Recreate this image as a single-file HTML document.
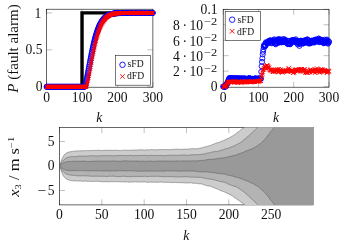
<!DOCTYPE html><html><head><meta charset="utf-8"><style>html,body{margin:0;padding:0;background:#fff;}svg{display:block}text{font-family:"Liberation Serif",serif;fill:#111}</style></head><body>
<svg style="will-change:transform" width="344" height="245" viewBox="0 0 344 245">
<rect width="344" height="245" fill="#fff"/>
<path d="M46.60 87.2 v-5.5 M46.60 9.2 v5.5" stroke="#808080" stroke-width="0.5" fill="none"/>
<path d="M82.03 87.2 v-5.5 M82.03 9.2 v5.5" stroke="#808080" stroke-width="0.5" fill="none"/>
<path d="M117.47 87.2 v-5.5 M117.47 9.2 v5.5" stroke="#808080" stroke-width="0.5" fill="none"/>
<path d="M152.90 87.2 v-5.5 M152.90 9.2 v5.5" stroke="#808080" stroke-width="0.5" fill="none"/>
<path d="M46.6 86.80 h5.5 M152.9 86.80 h-5.5" stroke="#808080" stroke-width="0.5" fill="none"/>
<path d="M46.6 49.85 h5.5 M152.9 49.85 h-5.5" stroke="#808080" stroke-width="0.5" fill="none"/>
<path d="M46.6 12.90 h5.5 M152.9 12.90 h-5.5" stroke="#808080" stroke-width="0.5" fill="none"/>
<rect x="46.6" y="9.2" width="106.30000000000001" height="78.0" fill="none" stroke="#000" stroke-width="0.6"/>
<path d="M46.60 86.80 H82.03 V12.90 H152.90" fill="none" stroke="#000" stroke-width="3.4" stroke-linejoin="miter"/>
<g fill="none" stroke="#0000ff" stroke-width="1"><circle cx="46.60" cy="86.80" r="2.5"/><circle cx="46.95" cy="86.80" r="2.5"/><circle cx="47.31" cy="86.80" r="2.5"/><circle cx="47.66" cy="86.80" r="2.5"/><circle cx="48.02" cy="86.80" r="2.5"/><circle cx="48.37" cy="86.80" r="2.5"/><circle cx="48.73" cy="86.80" r="2.5"/><circle cx="49.08" cy="86.80" r="2.5"/><circle cx="49.43" cy="86.80" r="2.5"/><circle cx="49.79" cy="86.80" r="2.5"/><circle cx="50.14" cy="86.80" r="2.5"/><circle cx="50.50" cy="86.80" r="2.5"/><circle cx="50.85" cy="86.80" r="2.5"/><circle cx="51.21" cy="86.80" r="2.5"/><circle cx="51.56" cy="86.80" r="2.5"/><circle cx="51.91" cy="86.80" r="2.5"/><circle cx="52.27" cy="86.80" r="2.5"/><circle cx="52.62" cy="86.80" r="2.5"/><circle cx="52.98" cy="86.80" r="2.5"/><circle cx="53.33" cy="86.80" r="2.5"/><circle cx="53.69" cy="86.80" r="2.5"/><circle cx="54.04" cy="86.80" r="2.5"/><circle cx="54.40" cy="86.80" r="2.5"/><circle cx="54.75" cy="86.80" r="2.5"/><circle cx="55.10" cy="86.80" r="2.5"/><circle cx="55.46" cy="86.80" r="2.5"/><circle cx="55.81" cy="86.80" r="2.5"/><circle cx="56.17" cy="86.80" r="2.5"/><circle cx="56.52" cy="86.80" r="2.5"/><circle cx="56.88" cy="86.80" r="2.5"/><circle cx="57.23" cy="86.80" r="2.5"/><circle cx="57.58" cy="86.80" r="2.5"/><circle cx="57.94" cy="86.80" r="2.5"/><circle cx="58.29" cy="86.80" r="2.5"/><circle cx="58.65" cy="86.80" r="2.5"/><circle cx="59.00" cy="86.80" r="2.5"/><circle cx="59.36" cy="86.80" r="2.5"/><circle cx="59.71" cy="86.80" r="2.5"/><circle cx="60.06" cy="86.80" r="2.5"/><circle cx="60.42" cy="86.80" r="2.5"/><circle cx="60.77" cy="86.80" r="2.5"/><circle cx="61.13" cy="86.80" r="2.5"/><circle cx="61.48" cy="86.80" r="2.5"/><circle cx="61.84" cy="86.80" r="2.5"/><circle cx="62.19" cy="86.80" r="2.5"/><circle cx="62.55" cy="86.80" r="2.5"/><circle cx="62.90" cy="86.80" r="2.5"/><circle cx="63.25" cy="86.80" r="2.5"/><circle cx="63.61" cy="86.80" r="2.5"/><circle cx="63.96" cy="86.80" r="2.5"/><circle cx="64.32" cy="86.80" r="2.5"/><circle cx="64.67" cy="86.80" r="2.5"/><circle cx="65.03" cy="86.80" r="2.5"/><circle cx="65.38" cy="86.80" r="2.5"/><circle cx="65.73" cy="86.80" r="2.5"/><circle cx="66.09" cy="86.80" r="2.5"/><circle cx="66.44" cy="86.80" r="2.5"/><circle cx="66.80" cy="86.80" r="2.5"/><circle cx="67.15" cy="86.80" r="2.5"/><circle cx="67.51" cy="86.80" r="2.5"/><circle cx="67.86" cy="86.80" r="2.5"/><circle cx="68.21" cy="86.80" r="2.5"/><circle cx="68.57" cy="86.80" r="2.5"/><circle cx="68.92" cy="86.80" r="2.5"/><circle cx="69.28" cy="86.80" r="2.5"/><circle cx="69.63" cy="86.80" r="2.5"/><circle cx="69.99" cy="86.80" r="2.5"/><circle cx="70.34" cy="86.80" r="2.5"/><circle cx="70.69" cy="86.80" r="2.5"/><circle cx="71.05" cy="86.80" r="2.5"/><circle cx="71.40" cy="86.80" r="2.5"/><circle cx="71.76" cy="86.80" r="2.5"/><circle cx="72.11" cy="86.80" r="2.5"/><circle cx="72.47" cy="86.80" r="2.5"/><circle cx="72.82" cy="86.80" r="2.5"/><circle cx="73.18" cy="86.80" r="2.5"/><circle cx="73.53" cy="86.80" r="2.5"/><circle cx="73.88" cy="86.80" r="2.5"/><circle cx="74.24" cy="86.80" r="2.5"/><circle cx="74.59" cy="86.80" r="2.5"/><circle cx="74.95" cy="86.80" r="2.5"/><circle cx="75.30" cy="86.80" r="2.5"/><circle cx="75.66" cy="86.80" r="2.5"/><circle cx="76.01" cy="86.80" r="2.5"/><circle cx="76.36" cy="86.80" r="2.5"/><circle cx="76.72" cy="86.80" r="2.5"/><circle cx="77.07" cy="86.80" r="2.5"/><circle cx="77.43" cy="86.80" r="2.5"/><circle cx="77.78" cy="86.80" r="2.5"/><circle cx="78.14" cy="86.80" r="2.5"/><circle cx="78.49" cy="86.80" r="2.5"/><circle cx="78.84" cy="86.80" r="2.5"/><circle cx="79.20" cy="86.80" r="2.5"/><circle cx="79.55" cy="86.80" r="2.5"/><circle cx="79.91" cy="86.80" r="2.5"/><circle cx="80.26" cy="86.80" r="2.5"/><circle cx="80.62" cy="86.80" r="2.5"/><circle cx="80.97" cy="86.80" r="2.5"/><circle cx="81.32" cy="86.80" r="2.5"/><circle cx="81.68" cy="86.80" r="2.5"/><circle cx="82.03" cy="86.80" r="2.5"/><circle cx="82.39" cy="86.80" r="2.5"/><circle cx="82.74" cy="86.80" r="2.5"/><circle cx="83.10" cy="86.80" r="2.5"/><circle cx="83.45" cy="86.80" r="2.5"/><circle cx="83.81" cy="86.80" r="2.5"/><circle cx="84.16" cy="86.80" r="2.5"/><circle cx="84.51" cy="86.80" r="2.5"/><circle cx="84.87" cy="86.23" r="2.5"/><circle cx="85.22" cy="85.25" r="2.5"/><circle cx="85.58" cy="84.03" r="2.5"/><circle cx="85.93" cy="82.64" r="2.5"/><circle cx="86.29" cy="81.11" r="2.5"/><circle cx="86.64" cy="79.47" r="2.5"/><circle cx="86.99" cy="77.75" r="2.5"/><circle cx="87.35" cy="75.97" r="2.5"/><circle cx="87.70" cy="74.14" r="2.5"/><circle cx="88.06" cy="72.26" r="2.5"/><circle cx="88.41" cy="70.37" r="2.5"/><circle cx="88.77" cy="68.46" r="2.5"/><circle cx="89.12" cy="66.54" r="2.5"/><circle cx="89.47" cy="64.63" r="2.5"/><circle cx="89.83" cy="62.72" r="2.5"/><circle cx="90.18" cy="60.83" r="2.5"/><circle cx="90.54" cy="58.96" r="2.5"/><circle cx="90.89" cy="57.12" r="2.5"/><circle cx="91.25" cy="55.30" r="2.5"/><circle cx="91.60" cy="53.52" r="2.5"/><circle cx="91.95" cy="51.78" r="2.5"/><circle cx="92.31" cy="50.08" r="2.5"/><circle cx="92.66" cy="48.41" r="2.5"/><circle cx="93.02" cy="46.80" r="2.5"/><circle cx="93.37" cy="45.22" r="2.5"/><circle cx="93.73" cy="43.70" r="2.5"/><circle cx="94.08" cy="42.22" r="2.5"/><circle cx="94.44" cy="40.78" r="2.5"/><circle cx="94.79" cy="39.40" r="2.5"/><circle cx="95.14" cy="38.07" r="2.5"/><circle cx="95.50" cy="36.78" r="2.5"/><circle cx="95.85" cy="35.54" r="2.5"/><circle cx="96.21" cy="34.35" r="2.5"/><circle cx="96.56" cy="33.21" r="2.5"/><circle cx="96.92" cy="32.12" r="2.5"/><circle cx="97.27" cy="31.07" r="2.5"/><circle cx="97.62" cy="30.06" r="2.5"/><circle cx="97.98" cy="29.10" r="2.5"/><circle cx="98.33" cy="28.18" r="2.5"/><circle cx="98.69" cy="27.31" r="2.5"/><circle cx="99.04" cy="26.48" r="2.5"/><circle cx="99.40" cy="25.68" r="2.5"/><circle cx="99.75" cy="24.93" r="2.5"/><circle cx="100.10" cy="24.21" r="2.5"/><circle cx="100.46" cy="23.53" r="2.5"/><circle cx="100.81" cy="22.88" r="2.5"/><circle cx="101.17" cy="22.27" r="2.5"/><circle cx="101.52" cy="21.69" r="2.5"/><circle cx="101.88" cy="21.14" r="2.5"/><circle cx="102.23" cy="20.62" r="2.5"/><circle cx="102.58" cy="20.13" r="2.5"/><circle cx="102.94" cy="19.66" r="2.5"/><circle cx="103.29" cy="19.22" r="2.5"/><circle cx="103.65" cy="18.81" r="2.5"/><circle cx="104.00" cy="18.42" r="2.5"/><circle cx="104.36" cy="18.05" r="2.5"/><circle cx="104.71" cy="17.71" r="2.5"/><circle cx="105.07" cy="17.39" r="2.5"/><circle cx="105.42" cy="17.08" r="2.5"/><circle cx="105.77" cy="16.79" r="2.5"/><circle cx="106.13" cy="16.53" r="2.5"/><circle cx="106.48" cy="16.27" r="2.5"/><circle cx="106.84" cy="16.04" r="2.5"/><circle cx="107.19" cy="15.82" r="2.5"/><circle cx="107.55" cy="15.61" r="2.5"/><circle cx="107.90" cy="15.42" r="2.5"/><circle cx="108.25" cy="15.24" r="2.5"/><circle cx="108.61" cy="15.07" r="2.5"/><circle cx="108.96" cy="14.91" r="2.5"/><circle cx="109.32" cy="14.76" r="2.5"/><circle cx="109.67" cy="14.63" r="2.5"/><circle cx="110.03" cy="14.50" r="2.5"/><circle cx="110.38" cy="14.38" r="2.5"/><circle cx="110.73" cy="14.27" r="2.5"/><circle cx="111.09" cy="14.17" r="2.5"/><circle cx="111.44" cy="14.07" r="2.5"/><circle cx="111.80" cy="13.98" r="2.5"/><circle cx="112.15" cy="13.90" r="2.5"/><circle cx="112.51" cy="13.82" r="2.5"/><circle cx="112.86" cy="13.75" r="2.5"/><circle cx="113.21" cy="13.68" r="2.5"/><circle cx="113.57" cy="13.62" r="2.5"/><circle cx="113.92" cy="13.56" r="2.5"/><circle cx="114.28" cy="13.51" r="2.5"/><circle cx="114.63" cy="13.46" r="2.5"/><circle cx="114.99" cy="13.42" r="2.5"/><circle cx="115.34" cy="13.38" r="2.5"/><circle cx="115.70" cy="13.34" r="2.5"/><circle cx="116.05" cy="13.30" r="2.5"/><circle cx="116.40" cy="13.27" r="2.5"/><circle cx="116.76" cy="13.24" r="2.5"/><circle cx="117.11" cy="13.21" r="2.5"/><circle cx="117.47" cy="13.19" r="2.5"/><circle cx="117.82" cy="13.16" r="2.5"/><circle cx="118.18" cy="13.14" r="2.5"/><circle cx="118.53" cy="13.12" r="2.5"/><circle cx="118.88" cy="13.10" r="2.5"/><circle cx="119.24" cy="13.08" r="2.5"/><circle cx="119.59" cy="13.07" r="2.5"/><circle cx="119.95" cy="13.05" r="2.5"/><circle cx="120.30" cy="13.04" r="2.5"/><circle cx="120.66" cy="13.03" r="2.5"/><circle cx="121.01" cy="13.02" r="2.5"/><circle cx="121.36" cy="13.01" r="2.5"/><circle cx="121.72" cy="13.00" r="2.5"/><circle cx="122.07" cy="12.99" r="2.5"/><circle cx="122.43" cy="12.98" r="2.5"/><circle cx="122.78" cy="12.97" r="2.5"/><circle cx="123.14" cy="12.97" r="2.5"/><circle cx="123.49" cy="12.96" r="2.5"/><circle cx="123.84" cy="12.96" r="2.5"/><circle cx="124.20" cy="12.95" r="2.5"/><circle cx="124.55" cy="12.95" r="2.5"/><circle cx="124.91" cy="12.94" r="2.5"/><circle cx="125.26" cy="12.94" r="2.5"/><circle cx="125.62" cy="12.94" r="2.5"/><circle cx="125.97" cy="12.93" r="2.5"/><circle cx="126.33" cy="12.93" r="2.5"/><circle cx="126.68" cy="12.93" r="2.5"/><circle cx="127.03" cy="12.92" r="2.5"/><circle cx="127.39" cy="12.92" r="2.5"/><circle cx="127.74" cy="12.92" r="2.5"/><circle cx="128.10" cy="12.92" r="2.5"/><circle cx="128.45" cy="12.92" r="2.5"/><circle cx="128.81" cy="12.91" r="2.5"/><circle cx="129.16" cy="12.91" r="2.5"/><circle cx="129.51" cy="12.91" r="2.5"/><circle cx="129.87" cy="12.91" r="2.5"/><circle cx="130.22" cy="12.91" r="2.5"/><circle cx="130.58" cy="12.91" r="2.5"/><circle cx="130.93" cy="12.91" r="2.5"/><circle cx="131.29" cy="12.91" r="2.5"/><circle cx="131.64" cy="12.91" r="2.5"/><circle cx="131.99" cy="12.91" r="2.5"/><circle cx="132.35" cy="12.91" r="2.5"/><circle cx="132.70" cy="12.90" r="2.5"/><circle cx="133.06" cy="12.90" r="2.5"/><circle cx="133.41" cy="12.90" r="2.5"/><circle cx="133.77" cy="12.90" r="2.5"/><circle cx="134.12" cy="12.90" r="2.5"/><circle cx="134.47" cy="12.90" r="2.5"/><circle cx="134.83" cy="12.90" r="2.5"/><circle cx="135.18" cy="12.90" r="2.5"/><circle cx="135.54" cy="12.90" r="2.5"/><circle cx="135.89" cy="12.90" r="2.5"/><circle cx="136.25" cy="12.90" r="2.5"/><circle cx="136.60" cy="12.90" r="2.5"/><circle cx="136.96" cy="12.90" r="2.5"/><circle cx="137.31" cy="12.90" r="2.5"/><circle cx="137.66" cy="12.90" r="2.5"/><circle cx="138.02" cy="12.90" r="2.5"/><circle cx="138.37" cy="12.90" r="2.5"/><circle cx="138.73" cy="12.90" r="2.5"/><circle cx="139.08" cy="12.90" r="2.5"/><circle cx="139.44" cy="12.90" r="2.5"/><circle cx="139.79" cy="12.90" r="2.5"/><circle cx="140.14" cy="12.90" r="2.5"/><circle cx="140.50" cy="12.90" r="2.5"/><circle cx="140.85" cy="12.90" r="2.5"/><circle cx="141.21" cy="12.90" r="2.5"/><circle cx="141.56" cy="12.90" r="2.5"/><circle cx="141.92" cy="12.90" r="2.5"/><circle cx="142.27" cy="12.90" r="2.5"/><circle cx="142.62" cy="12.90" r="2.5"/><circle cx="142.98" cy="12.90" r="2.5"/><circle cx="143.33" cy="12.90" r="2.5"/><circle cx="143.69" cy="12.90" r="2.5"/><circle cx="144.04" cy="12.90" r="2.5"/><circle cx="144.40" cy="12.90" r="2.5"/><circle cx="144.75" cy="12.90" r="2.5"/><circle cx="145.10" cy="12.90" r="2.5"/><circle cx="145.46" cy="12.90" r="2.5"/><circle cx="145.81" cy="12.90" r="2.5"/><circle cx="146.17" cy="12.90" r="2.5"/><circle cx="146.52" cy="12.90" r="2.5"/><circle cx="146.88" cy="12.90" r="2.5"/><circle cx="147.23" cy="12.90" r="2.5"/><circle cx="147.59" cy="12.90" r="2.5"/><circle cx="147.94" cy="12.90" r="2.5"/><circle cx="148.29" cy="12.90" r="2.5"/><circle cx="148.65" cy="12.90" r="2.5"/><circle cx="149.00" cy="12.90" r="2.5"/><circle cx="149.36" cy="12.90" r="2.5"/><circle cx="149.71" cy="12.90" r="2.5"/><circle cx="150.07" cy="12.90" r="2.5"/><circle cx="150.42" cy="12.90" r="2.5"/><circle cx="150.77" cy="12.90" r="2.5"/><circle cx="151.13" cy="12.90" r="2.5"/><circle cx="151.48" cy="12.90" r="2.5"/><circle cx="151.84" cy="12.90" r="2.5"/><circle cx="152.19" cy="12.90" r="2.5"/><circle cx="152.55" cy="12.90" r="2.5"/><circle cx="152.90" cy="12.90" r="2.5"/></g>
<path fill="none" stroke="#ff0000" stroke-width="1" d="M44.70 84.90l3.8 3.8M44.70 88.70l3.8 -3.8M45.05 84.90l3.8 3.8M45.05 88.70l3.8 -3.8M45.41 84.90l3.8 3.8M45.41 88.70l3.8 -3.8M45.76 84.90l3.8 3.8M45.76 88.70l3.8 -3.8M46.12 84.90l3.8 3.8M46.12 88.70l3.8 -3.8M46.47 84.90l3.8 3.8M46.47 88.70l3.8 -3.8M46.83 84.90l3.8 3.8M46.83 88.70l3.8 -3.8M47.18 84.90l3.8 3.8M47.18 88.70l3.8 -3.8M47.53 84.90l3.8 3.8M47.53 88.70l3.8 -3.8M47.89 84.90l3.8 3.8M47.89 88.70l3.8 -3.8M48.24 84.90l3.8 3.8M48.24 88.70l3.8 -3.8M48.60 84.90l3.8 3.8M48.60 88.70l3.8 -3.8M48.95 84.90l3.8 3.8M48.95 88.70l3.8 -3.8M49.31 84.90l3.8 3.8M49.31 88.70l3.8 -3.8M49.66 84.90l3.8 3.8M49.66 88.70l3.8 -3.8M50.02 84.90l3.8 3.8M50.02 88.70l3.8 -3.8M50.37 84.90l3.8 3.8M50.37 88.70l3.8 -3.8M50.72 84.90l3.8 3.8M50.72 88.70l3.8 -3.8M51.08 84.90l3.8 3.8M51.08 88.70l3.8 -3.8M51.43 84.90l3.8 3.8M51.43 88.70l3.8 -3.8M51.79 84.90l3.8 3.8M51.79 88.70l3.8 -3.8M52.14 84.90l3.8 3.8M52.14 88.70l3.8 -3.8M52.50 84.90l3.8 3.8M52.50 88.70l3.8 -3.8M52.85 84.90l3.8 3.8M52.85 88.70l3.8 -3.8M53.20 84.90l3.8 3.8M53.20 88.70l3.8 -3.8M53.56 84.90l3.8 3.8M53.56 88.70l3.8 -3.8M53.91 84.90l3.8 3.8M53.91 88.70l3.8 -3.8M54.27 84.90l3.8 3.8M54.27 88.70l3.8 -3.8M54.62 84.90l3.8 3.8M54.62 88.70l3.8 -3.8M54.98 84.90l3.8 3.8M54.98 88.70l3.8 -3.8M55.33 84.90l3.8 3.8M55.33 88.70l3.8 -3.8M55.68 84.90l3.8 3.8M55.68 88.70l3.8 -3.8M56.04 84.90l3.8 3.8M56.04 88.70l3.8 -3.8M56.39 84.90l3.8 3.8M56.39 88.70l3.8 -3.8M56.75 84.90l3.8 3.8M56.75 88.70l3.8 -3.8M57.10 84.90l3.8 3.8M57.10 88.70l3.8 -3.8M57.46 84.90l3.8 3.8M57.46 88.70l3.8 -3.8M57.81 84.90l3.8 3.8M57.81 88.70l3.8 -3.8M58.16 84.90l3.8 3.8M58.16 88.70l3.8 -3.8M58.52 84.90l3.8 3.8M58.52 88.70l3.8 -3.8M58.87 84.90l3.8 3.8M58.87 88.70l3.8 -3.8M59.23 84.90l3.8 3.8M59.23 88.70l3.8 -3.8M59.58 84.90l3.8 3.8M59.58 88.70l3.8 -3.8M59.94 84.90l3.8 3.8M59.94 88.70l3.8 -3.8M60.29 84.90l3.8 3.8M60.29 88.70l3.8 -3.8M60.65 84.90l3.8 3.8M60.65 88.70l3.8 -3.8M61.00 84.90l3.8 3.8M61.00 88.70l3.8 -3.8M61.35 84.90l3.8 3.8M61.35 88.70l3.8 -3.8M61.71 84.90l3.8 3.8M61.71 88.70l3.8 -3.8M62.06 84.90l3.8 3.8M62.06 88.70l3.8 -3.8M62.42 84.90l3.8 3.8M62.42 88.70l3.8 -3.8M62.77 84.90l3.8 3.8M62.77 88.70l3.8 -3.8M63.13 84.90l3.8 3.8M63.13 88.70l3.8 -3.8M63.48 84.90l3.8 3.8M63.48 88.70l3.8 -3.8M63.83 84.90l3.8 3.8M63.83 88.70l3.8 -3.8M64.19 84.90l3.8 3.8M64.19 88.70l3.8 -3.8M64.54 84.90l3.8 3.8M64.54 88.70l3.8 -3.8M64.90 84.90l3.8 3.8M64.90 88.70l3.8 -3.8M65.25 84.90l3.8 3.8M65.25 88.70l3.8 -3.8M65.61 84.90l3.8 3.8M65.61 88.70l3.8 -3.8M65.96 84.90l3.8 3.8M65.96 88.70l3.8 -3.8M66.31 84.90l3.8 3.8M66.31 88.70l3.8 -3.8M66.67 84.90l3.8 3.8M66.67 88.70l3.8 -3.8M67.02 84.90l3.8 3.8M67.02 88.70l3.8 -3.8M67.38 84.90l3.8 3.8M67.38 88.70l3.8 -3.8M67.73 84.90l3.8 3.8M67.73 88.70l3.8 -3.8M68.09 84.90l3.8 3.8M68.09 88.70l3.8 -3.8M68.44 84.90l3.8 3.8M68.44 88.70l3.8 -3.8M68.79 84.90l3.8 3.8M68.79 88.70l3.8 -3.8M69.15 84.90l3.8 3.8M69.15 88.70l3.8 -3.8M69.50 84.90l3.8 3.8M69.50 88.70l3.8 -3.8M69.86 84.90l3.8 3.8M69.86 88.70l3.8 -3.8M70.21 84.90l3.8 3.8M70.21 88.70l3.8 -3.8M70.57 84.90l3.8 3.8M70.57 88.70l3.8 -3.8M70.92 84.90l3.8 3.8M70.92 88.70l3.8 -3.8M71.28 84.90l3.8 3.8M71.28 88.70l3.8 -3.8M71.63 84.90l3.8 3.8M71.63 88.70l3.8 -3.8M71.98 84.90l3.8 3.8M71.98 88.70l3.8 -3.8M72.34 84.90l3.8 3.8M72.34 88.70l3.8 -3.8M72.69 84.90l3.8 3.8M72.69 88.70l3.8 -3.8M73.05 84.90l3.8 3.8M73.05 88.70l3.8 -3.8M73.40 84.90l3.8 3.8M73.40 88.70l3.8 -3.8M73.76 84.90l3.8 3.8M73.76 88.70l3.8 -3.8M74.11 84.90l3.8 3.8M74.11 88.70l3.8 -3.8M74.46 84.90l3.8 3.8M74.46 88.70l3.8 -3.8M74.82 84.90l3.8 3.8M74.82 88.70l3.8 -3.8M75.17 84.90l3.8 3.8M75.17 88.70l3.8 -3.8M75.53 84.90l3.8 3.8M75.53 88.70l3.8 -3.8M75.88 84.90l3.8 3.8M75.88 88.70l3.8 -3.8M76.24 84.90l3.8 3.8M76.24 88.70l3.8 -3.8M76.59 84.90l3.8 3.8M76.59 88.70l3.8 -3.8M76.94 84.90l3.8 3.8M76.94 88.70l3.8 -3.8M77.30 84.90l3.8 3.8M77.30 88.70l3.8 -3.8M77.65 84.90l3.8 3.8M77.65 88.70l3.8 -3.8M78.01 84.90l3.8 3.8M78.01 88.70l3.8 -3.8M78.36 84.90l3.8 3.8M78.36 88.70l3.8 -3.8M78.72 84.90l3.8 3.8M78.72 88.70l3.8 -3.8M79.07 84.90l3.8 3.8M79.07 88.70l3.8 -3.8M79.42 84.90l3.8 3.8M79.42 88.70l3.8 -3.8M79.78 84.90l3.8 3.8M79.78 88.70l3.8 -3.8M80.13 84.90l3.8 3.8M80.13 88.70l3.8 -3.8M80.49 84.90l3.8 3.8M80.49 88.70l3.8 -3.8M80.84 84.90l3.8 3.8M80.84 88.70l3.8 -3.8M81.20 84.90l3.8 3.8M81.20 88.70l3.8 -3.8M81.55 84.90l3.8 3.8M81.55 88.70l3.8 -3.8M81.91 84.90l3.8 3.8M81.91 88.70l3.8 -3.8M82.26 84.90l3.8 3.8M82.26 88.70l3.8 -3.8M82.61 84.90l3.8 3.8M82.61 88.70l3.8 -3.8M82.97 84.90l3.8 3.8M82.97 88.70l3.8 -3.8M83.32 84.90l3.8 3.8M83.32 88.70l3.8 -3.8M83.68 84.90l3.8 3.8M83.68 88.70l3.8 -3.8M84.03 84.90l3.8 3.8M84.03 88.70l3.8 -3.8M84.39 84.33l3.8 3.8M84.39 88.13l3.8 -3.8M84.74 83.35l3.8 3.8M84.74 87.15l3.8 -3.8M85.09 82.13l3.8 3.8M85.09 85.93l3.8 -3.8M85.45 80.74l3.8 3.8M85.45 84.54l3.8 -3.8M85.80 79.21l3.8 3.8M85.80 83.01l3.8 -3.8M86.16 77.57l3.8 3.8M86.16 81.37l3.8 -3.8M86.51 75.85l3.8 3.8M86.51 79.65l3.8 -3.8M86.87 74.07l3.8 3.8M86.87 77.87l3.8 -3.8M87.22 72.24l3.8 3.8M87.22 76.04l3.8 -3.8M87.57 70.36l3.8 3.8M87.57 74.16l3.8 -3.8M87.93 68.47l3.8 3.8M87.93 72.27l3.8 -3.8M88.28 66.56l3.8 3.8M88.28 70.36l3.8 -3.8M88.64 64.64l3.8 3.8M88.64 68.44l3.8 -3.8M88.99 62.73l3.8 3.8M88.99 66.53l3.8 -3.8M89.35 60.82l3.8 3.8M89.35 64.62l3.8 -3.8M89.70 58.93l3.8 3.8M89.70 62.73l3.8 -3.8M90.05 57.06l3.8 3.8M90.05 60.86l3.8 -3.8M90.41 55.22l3.8 3.8M90.41 59.02l3.8 -3.8M90.76 53.40l3.8 3.8M90.76 57.20l3.8 -3.8M91.12 51.62l3.8 3.8M91.12 55.42l3.8 -3.8M91.47 49.88l3.8 3.8M91.47 53.68l3.8 -3.8M91.83 48.18l3.8 3.8M91.83 51.98l3.8 -3.8M92.18 46.51l3.8 3.8M92.18 50.31l3.8 -3.8M92.53 44.90l3.8 3.8M92.53 48.70l3.8 -3.8M92.89 43.32l3.8 3.8M92.89 47.12l3.8 -3.8M93.24 41.80l3.8 3.8M93.24 45.60l3.8 -3.8M93.60 40.32l3.8 3.8M93.60 44.12l3.8 -3.8M93.95 38.88l3.8 3.8M93.95 42.68l3.8 -3.8M94.31 37.50l3.8 3.8M94.31 41.30l3.8 -3.8M94.66 36.17l3.8 3.8M94.66 39.97l3.8 -3.8M95.02 34.88l3.8 3.8M95.02 38.68l3.8 -3.8M95.37 33.64l3.8 3.8M95.37 37.44l3.8 -3.8M95.72 32.45l3.8 3.8M95.72 36.25l3.8 -3.8M96.08 31.31l3.8 3.8M96.08 35.11l3.8 -3.8M96.43 30.22l3.8 3.8M96.43 34.02l3.8 -3.8M96.79 29.17l3.8 3.8M96.79 32.97l3.8 -3.8M97.14 28.16l3.8 3.8M97.14 31.96l3.8 -3.8M97.50 27.20l3.8 3.8M97.50 31.00l3.8 -3.8M97.85 26.28l3.8 3.8M97.85 30.08l3.8 -3.8M98.20 25.41l3.8 3.8M98.20 29.21l3.8 -3.8M98.56 24.58l3.8 3.8M98.56 28.38l3.8 -3.8M98.91 23.78l3.8 3.8M98.91 27.58l3.8 -3.8M99.27 23.03l3.8 3.8M99.27 26.83l3.8 -3.8M99.62 22.31l3.8 3.8M99.62 26.11l3.8 -3.8M99.98 21.63l3.8 3.8M99.98 25.43l3.8 -3.8M100.33 20.98l3.8 3.8M100.33 24.78l3.8 -3.8M100.68 20.37l3.8 3.8M100.68 24.17l3.8 -3.8M101.04 19.79l3.8 3.8M101.04 23.59l3.8 -3.8M101.39 19.24l3.8 3.8M101.39 23.04l3.8 -3.8M101.75 18.72l3.8 3.8M101.75 22.52l3.8 -3.8M102.10 18.23l3.8 3.8M102.10 22.03l3.8 -3.8M102.46 17.76l3.8 3.8M102.46 21.56l3.8 -3.8M102.81 17.32l3.8 3.8M102.81 21.12l3.8 -3.8M103.17 16.91l3.8 3.8M103.17 20.71l3.8 -3.8M103.52 16.52l3.8 3.8M103.52 20.32l3.8 -3.8M103.87 16.15l3.8 3.8M103.87 19.95l3.8 -3.8M104.23 15.81l3.8 3.8M104.23 19.61l3.8 -3.8M104.58 15.49l3.8 3.8M104.58 19.29l3.8 -3.8M104.94 15.18l3.8 3.8M104.94 18.98l3.8 -3.8M105.29 14.89l3.8 3.8M105.29 18.69l3.8 -3.8M105.65 14.63l3.8 3.8M105.65 18.43l3.8 -3.8M106.00 14.37l3.8 3.8M106.00 18.17l3.8 -3.8M106.35 14.14l3.8 3.8M106.35 17.94l3.8 -3.8M106.71 13.92l3.8 3.8M106.71 17.72l3.8 -3.8M107.06 13.71l3.8 3.8M107.06 17.51l3.8 -3.8M107.42 13.52l3.8 3.8M107.42 17.32l3.8 -3.8M107.77 13.34l3.8 3.8M107.77 17.14l3.8 -3.8M108.13 13.17l3.8 3.8M108.13 16.97l3.8 -3.8M108.48 13.01l3.8 3.8M108.48 16.81l3.8 -3.8M108.83 12.86l3.8 3.8M108.83 16.66l3.8 -3.8M109.19 12.73l3.8 3.8M109.19 16.53l3.8 -3.8M109.54 12.60l3.8 3.8M109.54 16.40l3.8 -3.8M109.90 12.48l3.8 3.8M109.90 16.28l3.8 -3.8M110.25 12.37l3.8 3.8M110.25 16.17l3.8 -3.8M110.61 12.27l3.8 3.8M110.61 16.07l3.8 -3.8M110.96 12.17l3.8 3.8M110.96 15.97l3.8 -3.8M111.31 12.08l3.8 3.8M111.31 15.88l3.8 -3.8M111.67 12.00l3.8 3.8M111.67 15.80l3.8 -3.8M112.02 11.92l3.8 3.8M112.02 15.72l3.8 -3.8M112.38 11.85l3.8 3.8M112.38 15.65l3.8 -3.8M112.73 11.78l3.8 3.8M112.73 15.58l3.8 -3.8M113.09 11.72l3.8 3.8M113.09 15.52l3.8 -3.8M113.44 11.66l3.8 3.8M113.44 15.46l3.8 -3.8M113.80 11.61l3.8 3.8M113.80 15.41l3.8 -3.8M114.15 11.56l3.8 3.8M114.15 15.36l3.8 -3.8M114.50 11.52l3.8 3.8M114.50 15.32l3.8 -3.8M114.86 11.48l3.8 3.8M114.86 15.28l3.8 -3.8M115.21 11.44l3.8 3.8M115.21 15.24l3.8 -3.8M115.57 11.40l3.8 3.8M115.57 15.20l3.8 -3.8M115.92 11.37l3.8 3.8M115.92 15.17l3.8 -3.8M116.28 11.34l3.8 3.8M116.28 15.14l3.8 -3.8M116.63 11.31l3.8 3.8M116.63 15.11l3.8 -3.8M116.98 11.29l3.8 3.8M116.98 15.09l3.8 -3.8M117.34 11.26l3.8 3.8M117.34 15.06l3.8 -3.8M117.69 11.24l3.8 3.8M117.69 15.04l3.8 -3.8M118.05 11.22l3.8 3.8M118.05 15.02l3.8 -3.8M118.40 11.20l3.8 3.8M118.40 15.00l3.8 -3.8M118.76 11.18l3.8 3.8M118.76 14.98l3.8 -3.8M119.11 11.17l3.8 3.8M119.11 14.97l3.8 -3.8M119.46 11.15l3.8 3.8M119.46 14.95l3.8 -3.8M119.82 11.14l3.8 3.8M119.82 14.94l3.8 -3.8M120.17 11.13l3.8 3.8M120.17 14.93l3.8 -3.8M120.53 11.12l3.8 3.8M120.53 14.92l3.8 -3.8M120.88 11.11l3.8 3.8M120.88 14.91l3.8 -3.8M121.24 11.10l3.8 3.8M121.24 14.90l3.8 -3.8M121.59 11.09l3.8 3.8M121.59 14.89l3.8 -3.8M121.94 11.08l3.8 3.8M121.94 14.88l3.8 -3.8M122.30 11.07l3.8 3.8M122.30 14.87l3.8 -3.8M122.65 11.07l3.8 3.8M122.65 14.87l3.8 -3.8M123.01 11.06l3.8 3.8M123.01 14.86l3.8 -3.8M123.36 11.06l3.8 3.8M123.36 14.86l3.8 -3.8M123.72 11.05l3.8 3.8M123.72 14.85l3.8 -3.8M124.07 11.05l3.8 3.8M124.07 14.85l3.8 -3.8M124.43 11.04l3.8 3.8M124.43 14.84l3.8 -3.8M124.78 11.04l3.8 3.8M124.78 14.84l3.8 -3.8M125.13 11.04l3.8 3.8M125.13 14.84l3.8 -3.8M125.49 11.03l3.8 3.8M125.49 14.83l3.8 -3.8M125.84 11.03l3.8 3.8M125.84 14.83l3.8 -3.8M126.20 11.03l3.8 3.8M126.20 14.83l3.8 -3.8M126.55 11.02l3.8 3.8M126.55 14.82l3.8 -3.8M126.91 11.02l3.8 3.8M126.91 14.82l3.8 -3.8M127.26 11.02l3.8 3.8M127.26 14.82l3.8 -3.8M127.61 11.02l3.8 3.8M127.61 14.82l3.8 -3.8M127.97 11.02l3.8 3.8M127.97 14.82l3.8 -3.8M128.32 11.01l3.8 3.8M128.32 14.81l3.8 -3.8M128.68 11.01l3.8 3.8M128.68 14.81l3.8 -3.8M129.03 11.01l3.8 3.8M129.03 14.81l3.8 -3.8M129.39 11.01l3.8 3.8M129.39 14.81l3.8 -3.8M129.74 11.01l3.8 3.8M129.74 14.81l3.8 -3.8M130.09 11.01l3.8 3.8M130.09 14.81l3.8 -3.8M130.45 11.01l3.8 3.8M130.45 14.81l3.8 -3.8M130.80 11.01l3.8 3.8M130.80 14.81l3.8 -3.8M131.16 11.01l3.8 3.8M131.16 14.81l3.8 -3.8M131.51 11.01l3.8 3.8M131.51 14.81l3.8 -3.8M131.87 11.01l3.8 3.8M131.87 14.81l3.8 -3.8M132.22 11.00l3.8 3.8M132.22 14.80l3.8 -3.8M132.57 11.00l3.8 3.8M132.57 14.80l3.8 -3.8M132.93 11.00l3.8 3.8M132.93 14.80l3.8 -3.8M133.28 11.00l3.8 3.8M133.28 14.80l3.8 -3.8M133.64 11.00l3.8 3.8M133.64 14.80l3.8 -3.8M133.99 11.00l3.8 3.8M133.99 14.80l3.8 -3.8M134.35 11.00l3.8 3.8M134.35 14.80l3.8 -3.8M134.70 11.00l3.8 3.8M134.70 14.80l3.8 -3.8M135.06 11.00l3.8 3.8M135.06 14.80l3.8 -3.8M135.41 11.00l3.8 3.8M135.41 14.80l3.8 -3.8M135.76 11.00l3.8 3.8M135.76 14.80l3.8 -3.8M136.12 11.00l3.8 3.8M136.12 14.80l3.8 -3.8M136.47 11.00l3.8 3.8M136.47 14.80l3.8 -3.8M136.83 11.00l3.8 3.8M136.83 14.80l3.8 -3.8M137.18 11.00l3.8 3.8M137.18 14.80l3.8 -3.8M137.54 11.00l3.8 3.8M137.54 14.80l3.8 -3.8M137.89 11.00l3.8 3.8M137.89 14.80l3.8 -3.8M138.24 11.00l3.8 3.8M138.24 14.80l3.8 -3.8M138.60 11.00l3.8 3.8M138.60 14.80l3.8 -3.8M138.95 11.00l3.8 3.8M138.95 14.80l3.8 -3.8M139.31 11.00l3.8 3.8M139.31 14.80l3.8 -3.8M139.66 11.00l3.8 3.8M139.66 14.80l3.8 -3.8M140.02 11.00l3.8 3.8M140.02 14.80l3.8 -3.8M140.37 11.00l3.8 3.8M140.37 14.80l3.8 -3.8M140.72 11.00l3.8 3.8M140.72 14.80l3.8 -3.8M141.08 11.00l3.8 3.8M141.08 14.80l3.8 -3.8M141.43 11.00l3.8 3.8M141.43 14.80l3.8 -3.8M141.79 11.00l3.8 3.8M141.79 14.80l3.8 -3.8M142.14 11.00l3.8 3.8M142.14 14.80l3.8 -3.8M142.50 11.00l3.8 3.8M142.50 14.80l3.8 -3.8M142.85 11.00l3.8 3.8M142.85 14.80l3.8 -3.8M143.20 11.00l3.8 3.8M143.20 14.80l3.8 -3.8M143.56 11.00l3.8 3.8M143.56 14.80l3.8 -3.8M143.91 11.00l3.8 3.8M143.91 14.80l3.8 -3.8M144.27 11.00l3.8 3.8M144.27 14.80l3.8 -3.8M144.62 11.00l3.8 3.8M144.62 14.80l3.8 -3.8M144.98 11.00l3.8 3.8M144.98 14.80l3.8 -3.8M145.33 11.00l3.8 3.8M145.33 14.80l3.8 -3.8M145.69 11.00l3.8 3.8M145.69 14.80l3.8 -3.8M146.04 11.00l3.8 3.8M146.04 14.80l3.8 -3.8M146.39 11.00l3.8 3.8M146.39 14.80l3.8 -3.8M146.75 11.00l3.8 3.8M146.75 14.80l3.8 -3.8M147.10 11.00l3.8 3.8M147.10 14.80l3.8 -3.8M147.46 11.00l3.8 3.8M147.46 14.80l3.8 -3.8M147.81 11.00l3.8 3.8M147.81 14.80l3.8 -3.8M148.17 11.00l3.8 3.8M148.17 14.80l3.8 -3.8M148.52 11.00l3.8 3.8M148.52 14.80l3.8 -3.8M148.87 11.00l3.8 3.8M148.87 14.80l3.8 -3.8M149.23 11.00l3.8 3.8M149.23 14.80l3.8 -3.8M149.58 11.00l3.8 3.8M149.58 14.80l3.8 -3.8M149.94 11.00l3.8 3.8M149.94 14.80l3.8 -3.8M150.29 11.00l3.8 3.8M150.29 14.80l3.8 -3.8M150.65 11.00l3.8 3.8M150.65 14.80l3.8 -3.8M151.00 11.00l3.8 3.8M151.00 14.80l3.8 -3.8"/>
<rect x="115.3" y="55.6" width="35.1" height="29.6" fill="#fff" stroke="#222" stroke-width="0.6"/>
<circle cx="122.5" cy="64.8" r="2.75" fill="none" stroke="#0000ff" stroke-width="0.9"/>
<path d="M120.10000000000001 74.2l4.6 4.6M120.10000000000001 78.8l4.6 -4.6" stroke="#ff0000" stroke-width="0.9" fill="none"/>
<text x="127.60" y="67.20" font-size="9.6" text-anchor="start" >sFD</text>
<text x="127.00" y="79.00" font-size="9.6" text-anchor="start" >dFD</text>
<text x="46.60" y="101.90" font-size="13.6" text-anchor="middle" >0</text>
<text x="82.03" y="101.90" font-size="13.6" text-anchor="middle" >100</text>
<text x="117.47" y="101.90" font-size="13.6" text-anchor="middle" >200</text>
<text x="152.90" y="101.90" font-size="13.6" text-anchor="middle" >300</text>
<text x="42.50" y="91.00" font-size="13.6" text-anchor="end" >0</text>
<text x="42.50" y="54.05" font-size="13.6" text-anchor="end" >0.5</text>
<text x="41.20" y="17.50" font-size="13.6" text-anchor="end" >1</text>
<text x="99.30" y="122.30" font-size="13.6" text-anchor="middle" font-style="italic">k</text>
<text transform="translate(17.5,48.5) rotate(-90)" font-size="13.6" text-anchor="middle" textLength="88.5" lengthAdjust="spacingAndGlyphs"><tspan font-style="italic">P</tspan> (fault alarm)</text>
<path d="M223.20 87.2 v-5.5 M223.20 9.3 v5.5" stroke="#808080" stroke-width="0.5" fill="none"/>
<path d="M258.47 87.2 v-5.5 M258.47 9.3 v5.5" stroke="#808080" stroke-width="0.5" fill="none"/>
<path d="M293.73 87.2 v-5.5 M293.73 9.3 v5.5" stroke="#808080" stroke-width="0.5" fill="none"/>
<path d="M329.00 87.2 v-5.5 M329.00 9.3 v5.5" stroke="#808080" stroke-width="0.5" fill="none"/>
<path d="M223.2 86.60 h5.5 M329.0 86.60 h-5.5" stroke="#808080" stroke-width="0.5" fill="none"/>
<path d="M223.2 71.14 h5.5 M329.0 71.14 h-5.5" stroke="#808080" stroke-width="0.5" fill="none"/>
<path d="M223.2 55.68 h5.5 M329.0 55.68 h-5.5" stroke="#808080" stroke-width="0.5" fill="none"/>
<path d="M223.2 40.22 h5.5 M329.0 40.22 h-5.5" stroke="#808080" stroke-width="0.5" fill="none"/>
<path d="M223.2 24.76 h5.5 M329.0 24.76 h-5.5" stroke="#808080" stroke-width="0.5" fill="none"/>
<path d="M223.2 9.30 h5.5 M329.0 9.30 h-5.5" stroke="#808080" stroke-width="0.5" fill="none"/>
<rect x="223.2" y="9.3" width="105.80000000000001" height="77.9" fill="none" stroke="#000" stroke-width="0.6"/>
<g fill="none" stroke="#0000ff" stroke-width="0.9"><circle cx="223.20" cy="86.60" r="2.55"/><circle cx="223.55" cy="86.60" r="2.55"/><circle cx="223.91" cy="86.60" r="2.55"/><circle cx="224.26" cy="86.60" r="2.55"/><circle cx="224.61" cy="86.60" r="2.55"/><circle cx="224.96" cy="86.60" r="2.55"/><circle cx="225.32" cy="86.60" r="2.55"/><circle cx="225.67" cy="86.60" r="2.55"/><circle cx="226.02" cy="86.08" r="2.55"/><circle cx="226.37" cy="85.15" r="2.55"/><circle cx="226.73" cy="84.19" r="2.55"/><circle cx="227.08" cy="83.63" r="2.55"/><circle cx="227.43" cy="82.77" r="2.55"/><circle cx="227.78" cy="81.95" r="2.55"/><circle cx="228.14" cy="81.48" r="2.55"/><circle cx="228.49" cy="80.41" r="2.55"/><circle cx="228.84" cy="79.50" r="2.55"/><circle cx="229.20" cy="78.16" r="2.55"/><circle cx="229.55" cy="78.33" r="2.55"/><circle cx="229.90" cy="78.52" r="2.55"/><circle cx="230.25" cy="78.31" r="2.55"/><circle cx="230.61" cy="78.43" r="2.55"/><circle cx="230.96" cy="78.33" r="2.55"/><circle cx="231.31" cy="78.57" r="2.55"/><circle cx="231.66" cy="78.58" r="2.55"/><circle cx="232.02" cy="78.40" r="2.55"/><circle cx="232.37" cy="78.36" r="2.55"/><circle cx="232.72" cy="78.47" r="2.55"/><circle cx="233.07" cy="78.82" r="2.55"/><circle cx="233.43" cy="78.68" r="2.55"/><circle cx="233.78" cy="78.67" r="2.55"/><circle cx="234.13" cy="78.52" r="2.55"/><circle cx="234.49" cy="78.55" r="2.55"/><circle cx="234.84" cy="78.36" r="2.55"/><circle cx="235.19" cy="78.52" r="2.55"/><circle cx="235.54" cy="78.55" r="2.55"/><circle cx="235.90" cy="78.46" r="2.55"/><circle cx="236.25" cy="78.81" r="2.55"/><circle cx="236.60" cy="78.87" r="2.55"/><circle cx="236.95" cy="78.92" r="2.55"/><circle cx="237.31" cy="78.38" r="2.55"/><circle cx="237.66" cy="78.54" r="2.55"/><circle cx="238.01" cy="78.46" r="2.55"/><circle cx="238.36" cy="78.42" r="2.55"/><circle cx="238.72" cy="78.60" r="2.55"/><circle cx="239.07" cy="79.01" r="2.55"/><circle cx="239.42" cy="78.67" r="2.55"/><circle cx="239.78" cy="78.78" r="2.55"/><circle cx="240.13" cy="78.59" r="2.55"/><circle cx="240.48" cy="78.94" r="2.55"/><circle cx="240.83" cy="78.95" r="2.55"/><circle cx="241.19" cy="78.57" r="2.55"/><circle cx="241.54" cy="78.29" r="2.55"/><circle cx="241.89" cy="78.76" r="2.55"/><circle cx="242.24" cy="79.05" r="2.55"/><circle cx="242.60" cy="78.93" r="2.55"/><circle cx="242.95" cy="78.67" r="2.55"/><circle cx="243.30" cy="78.65" r="2.55"/><circle cx="243.65" cy="78.61" r="2.55"/><circle cx="244.01" cy="78.88" r="2.55"/><circle cx="244.36" cy="78.68" r="2.55"/><circle cx="244.71" cy="78.43" r="2.55"/><circle cx="245.07" cy="78.65" r="2.55"/><circle cx="245.42" cy="79.01" r="2.55"/><circle cx="245.77" cy="79.07" r="2.55"/><circle cx="246.12" cy="78.75" r="2.55"/><circle cx="246.48" cy="79.14" r="2.55"/><circle cx="246.83" cy="78.99" r="2.55"/><circle cx="247.18" cy="79.11" r="2.55"/><circle cx="247.53" cy="78.98" r="2.55"/><circle cx="247.89" cy="78.93" r="2.55"/><circle cx="248.24" cy="78.84" r="2.55"/><circle cx="248.59" cy="78.44" r="2.55"/><circle cx="248.94" cy="78.45" r="2.55"/><circle cx="249.30" cy="78.25" r="2.55"/><circle cx="249.65" cy="78.47" r="2.55"/><circle cx="250.00" cy="78.68" r="2.55"/><circle cx="250.36" cy="78.61" r="2.55"/><circle cx="250.71" cy="79.31" r="2.55"/><circle cx="251.06" cy="79.08" r="2.55"/><circle cx="251.41" cy="78.90" r="2.55"/><circle cx="251.77" cy="79.11" r="2.55"/><circle cx="252.12" cy="78.84" r="2.55"/><circle cx="252.47" cy="78.92" r="2.55"/><circle cx="252.82" cy="79.41" r="2.55"/><circle cx="253.18" cy="79.18" r="2.55"/><circle cx="253.53" cy="79.22" r="2.55"/><circle cx="253.88" cy="79.14" r="2.55"/><circle cx="254.23" cy="79.01" r="2.55"/><circle cx="254.59" cy="78.60" r="2.55"/><circle cx="254.94" cy="78.62" r="2.55"/><circle cx="255.29" cy="78.67" r="2.55"/><circle cx="255.65" cy="78.60" r="2.55"/><circle cx="256.00" cy="79.06" r="2.55"/><circle cx="256.35" cy="78.64" r="2.55"/><circle cx="256.70" cy="78.92" r="2.55"/><circle cx="257.06" cy="78.74" r="2.55"/><circle cx="257.41" cy="78.99" r="2.55"/><circle cx="257.76" cy="79.11" r="2.55"/><circle cx="258.11" cy="79.04" r="2.55"/><circle cx="258.47" cy="78.47" r="2.55"/><circle cx="258.82" cy="78.41" r="2.55"/><circle cx="259.17" cy="78.67" r="2.55"/><circle cx="259.52" cy="78.75" r="2.55"/><circle cx="259.88" cy="79.01" r="2.55"/><circle cx="260.23" cy="78.90" r="2.55"/><circle cx="260.58" cy="78.96" r="2.55"/><circle cx="260.94" cy="78.69" r="2.55"/><circle cx="261.29" cy="71.73" r="2.55"/><circle cx="261.64" cy="66.20" r="2.55"/><circle cx="261.99" cy="61.92" r="2.55"/><circle cx="262.35" cy="58.41" r="2.55"/><circle cx="262.70" cy="54.41" r="2.55"/><circle cx="263.05" cy="51.82" r="2.55"/><circle cx="263.40" cy="49.34" r="2.55"/><circle cx="263.76" cy="46.83" r="2.55"/><circle cx="264.11" cy="45.01" r="2.55"/><circle cx="264.46" cy="46.25" r="2.55"/><circle cx="264.81" cy="44.84" r="2.55"/><circle cx="265.17" cy="46.29" r="2.55"/><circle cx="265.52" cy="45.23" r="2.55"/><circle cx="265.87" cy="42.30" r="2.55"/><circle cx="266.23" cy="42.78" r="2.55"/><circle cx="266.58" cy="43.20" r="2.55"/><circle cx="266.93" cy="42.80" r="2.55"/><circle cx="267.28" cy="42.69" r="2.55"/><circle cx="267.64" cy="42.58" r="2.55"/><circle cx="267.99" cy="43.37" r="2.55"/><circle cx="268.34" cy="41.75" r="2.55"/><circle cx="268.69" cy="40.97" r="2.55"/><circle cx="269.05" cy="41.74" r="2.55"/><circle cx="269.40" cy="41.59" r="2.55"/><circle cx="269.75" cy="41.10" r="2.55"/><circle cx="270.10" cy="40.38" r="2.55"/><circle cx="270.46" cy="40.66" r="2.55"/><circle cx="270.81" cy="40.49" r="2.55"/><circle cx="271.16" cy="41.47" r="2.55"/><circle cx="271.52" cy="42.97" r="2.55"/><circle cx="271.87" cy="43.22" r="2.55"/><circle cx="272.22" cy="41.64" r="2.55"/><circle cx="272.57" cy="40.74" r="2.55"/><circle cx="272.93" cy="41.14" r="2.55"/><circle cx="273.28" cy="42.20" r="2.55"/><circle cx="273.63" cy="41.83" r="2.55"/><circle cx="273.98" cy="40.07" r="2.55"/><circle cx="274.34" cy="39.36" r="2.55"/><circle cx="274.69" cy="41.26" r="2.55"/><circle cx="275.04" cy="41.67" r="2.55"/><circle cx="275.39" cy="43.52" r="2.55"/><circle cx="275.75" cy="44.27" r="2.55"/><circle cx="276.10" cy="43.21" r="2.55"/><circle cx="276.45" cy="42.76" r="2.55"/><circle cx="276.81" cy="41.42" r="2.55"/><circle cx="277.16" cy="40.27" r="2.55"/><circle cx="277.51" cy="40.07" r="2.55"/><circle cx="277.86" cy="39.40" r="2.55"/><circle cx="278.22" cy="41.12" r="2.55"/><circle cx="278.57" cy="42.82" r="2.55"/><circle cx="278.92" cy="41.98" r="2.55"/><circle cx="279.27" cy="39.00" r="2.55"/><circle cx="279.63" cy="39.85" r="2.55"/><circle cx="279.98" cy="42.09" r="2.55"/><circle cx="280.33" cy="41.84" r="2.55"/><circle cx="280.68" cy="40.34" r="2.55"/><circle cx="281.04" cy="42.24" r="2.55"/><circle cx="281.39" cy="41.29" r="2.55"/><circle cx="281.74" cy="42.33" r="2.55"/><circle cx="282.10" cy="40.81" r="2.55"/><circle cx="282.45" cy="40.45" r="2.55"/><circle cx="282.80" cy="40.79" r="2.55"/><circle cx="283.15" cy="39.05" r="2.55"/><circle cx="283.51" cy="40.76" r="2.55"/><circle cx="283.86" cy="42.10" r="2.55"/><circle cx="284.21" cy="40.01" r="2.55"/><circle cx="284.56" cy="41.86" r="2.55"/><circle cx="284.92" cy="39.47" r="2.55"/><circle cx="285.27" cy="40.59" r="2.55"/><circle cx="285.62" cy="42.40" r="2.55"/><circle cx="285.97" cy="42.30" r="2.55"/><circle cx="286.33" cy="42.09" r="2.55"/><circle cx="286.68" cy="41.89" r="2.55"/><circle cx="287.03" cy="42.21" r="2.55"/><circle cx="287.39" cy="40.96" r="2.55"/><circle cx="287.74" cy="44.08" r="2.55"/><circle cx="288.09" cy="43.94" r="2.55"/><circle cx="288.44" cy="43.52" r="2.55"/><circle cx="288.80" cy="40.90" r="2.55"/><circle cx="289.15" cy="43.67" r="2.55"/><circle cx="289.50" cy="43.45" r="2.55"/><circle cx="289.85" cy="44.23" r="2.55"/><circle cx="290.21" cy="44.16" r="2.55"/><circle cx="290.56" cy="42.63" r="2.55"/><circle cx="290.91" cy="41.97" r="2.55"/><circle cx="291.26" cy="40.40" r="2.55"/><circle cx="291.62" cy="41.78" r="2.55"/><circle cx="291.97" cy="41.63" r="2.55"/><circle cx="292.32" cy="40.50" r="2.55"/><circle cx="292.68" cy="40.13" r="2.55"/><circle cx="293.03" cy="41.32" r="2.55"/><circle cx="293.38" cy="40.37" r="2.55"/><circle cx="293.73" cy="42.14" r="2.55"/><circle cx="294.09" cy="40.09" r="2.55"/><circle cx="294.44" cy="40.74" r="2.55"/><circle cx="294.79" cy="41.43" r="2.55"/><circle cx="295.14" cy="41.41" r="2.55"/><circle cx="295.50" cy="40.74" r="2.55"/><circle cx="295.85" cy="39.32" r="2.55"/><circle cx="296.20" cy="40.62" r="2.55"/><circle cx="296.55" cy="41.65" r="2.55"/><circle cx="296.91" cy="41.18" r="2.55"/><circle cx="297.26" cy="42.56" r="2.55"/><circle cx="297.61" cy="44.33" r="2.55"/><circle cx="297.97" cy="42.51" r="2.55"/><circle cx="298.32" cy="42.80" r="2.55"/><circle cx="298.67" cy="41.26" r="2.55"/><circle cx="299.02" cy="42.78" r="2.55"/><circle cx="299.38" cy="45.83" r="2.55"/><circle cx="299.73" cy="44.04" r="2.55"/><circle cx="300.08" cy="43.11" r="2.55"/><circle cx="300.43" cy="40.90" r="2.55"/><circle cx="300.79" cy="40.80" r="2.55"/><circle cx="301.14" cy="40.99" r="2.55"/><circle cx="301.49" cy="40.79" r="2.55"/><circle cx="301.84" cy="41.75" r="2.55"/><circle cx="302.20" cy="41.82" r="2.55"/><circle cx="302.55" cy="43.50" r="2.55"/><circle cx="302.90" cy="42.37" r="2.55"/><circle cx="303.26" cy="43.20" r="2.55"/><circle cx="303.61" cy="43.29" r="2.55"/><circle cx="303.96" cy="42.04" r="2.55"/><circle cx="304.31" cy="41.04" r="2.55"/><circle cx="304.67" cy="42.63" r="2.55"/><circle cx="305.02" cy="40.16" r="2.55"/><circle cx="305.37" cy="41.63" r="2.55"/><circle cx="305.72" cy="40.89" r="2.55"/><circle cx="306.08" cy="40.31" r="2.55"/><circle cx="306.43" cy="40.79" r="2.55"/><circle cx="306.78" cy="41.14" r="2.55"/><circle cx="307.13" cy="39.50" r="2.55"/><circle cx="307.49" cy="39.54" r="2.55"/><circle cx="307.84" cy="40.08" r="2.55"/><circle cx="308.19" cy="42.99" r="2.55"/><circle cx="308.55" cy="43.51" r="2.55"/><circle cx="308.90" cy="41.64" r="2.55"/><circle cx="309.25" cy="41.62" r="2.55"/><circle cx="309.60" cy="42.92" r="2.55"/><circle cx="309.96" cy="43.35" r="2.55"/><circle cx="310.31" cy="43.22" r="2.55"/><circle cx="310.66" cy="42.01" r="2.55"/><circle cx="311.01" cy="41.63" r="2.55"/><circle cx="311.37" cy="40.70" r="2.55"/><circle cx="311.72" cy="42.21" r="2.55"/><circle cx="312.07" cy="41.06" r="2.55"/><circle cx="312.42" cy="42.07" r="2.55"/><circle cx="312.78" cy="42.44" r="2.55"/><circle cx="313.13" cy="40.35" r="2.55"/><circle cx="313.48" cy="40.99" r="2.55"/><circle cx="313.84" cy="41.61" r="2.55"/><circle cx="314.19" cy="42.07" r="2.55"/><circle cx="314.54" cy="42.54" r="2.55"/><circle cx="314.89" cy="40.61" r="2.55"/><circle cx="315.25" cy="39.66" r="2.55"/><circle cx="315.60" cy="39.84" r="2.55"/><circle cx="315.95" cy="40.55" r="2.55"/><circle cx="316.30" cy="40.01" r="2.55"/><circle cx="316.66" cy="40.95" r="2.55"/><circle cx="317.01" cy="40.92" r="2.55"/><circle cx="317.36" cy="40.95" r="2.55"/><circle cx="317.71" cy="41.33" r="2.55"/><circle cx="318.07" cy="39.78" r="2.55"/><circle cx="318.42" cy="38.73" r="2.55"/><circle cx="318.77" cy="38.59" r="2.55"/><circle cx="319.13" cy="42.20" r="2.55"/><circle cx="319.48" cy="40.09" r="2.55"/><circle cx="319.83" cy="40.11" r="2.55"/><circle cx="320.18" cy="41.44" r="2.55"/><circle cx="320.54" cy="41.75" r="2.55"/><circle cx="320.89" cy="40.62" r="2.55"/><circle cx="321.24" cy="39.89" r="2.55"/><circle cx="321.59" cy="39.82" r="2.55"/><circle cx="321.95" cy="40.59" r="2.55"/><circle cx="322.30" cy="41.18" r="2.55"/><circle cx="322.65" cy="40.62" r="2.55"/><circle cx="323.00" cy="41.34" r="2.55"/><circle cx="323.36" cy="42.69" r="2.55"/><circle cx="323.71" cy="43.18" r="2.55"/><circle cx="324.06" cy="42.93" r="2.55"/><circle cx="324.42" cy="42.24" r="2.55"/><circle cx="324.77" cy="39.63" r="2.55"/><circle cx="325.12" cy="42.20" r="2.55"/><circle cx="325.47" cy="41.64" r="2.55"/><circle cx="325.83" cy="41.95" r="2.55"/><circle cx="326.18" cy="41.69" r="2.55"/><circle cx="326.53" cy="40.33" r="2.55"/><circle cx="326.88" cy="39.64" r="2.55"/><circle cx="327.24" cy="40.83" r="2.55"/><circle cx="327.59" cy="41.99" r="2.55"/><circle cx="327.94" cy="43.61" r="2.55"/><circle cx="328.29" cy="43.11" r="2.55"/><circle cx="328.65" cy="41.30" r="2.55"/><circle cx="329.00" cy="41.95" r="2.55"/></g>
<path fill="none" stroke="#ff0000" stroke-width="0.9" d="M221.20 84.60l4.0 4.0M221.20 88.60l4.0 -4.0M221.55 84.60l4.0 4.0M221.55 88.60l4.0 -4.0M221.91 84.60l4.0 4.0M221.91 88.60l4.0 -4.0M222.26 84.60l4.0 4.0M222.26 88.60l4.0 -4.0M222.61 84.60l4.0 4.0M222.61 88.60l4.0 -4.0M222.96 84.60l4.0 4.0M222.96 88.60l4.0 -4.0M223.32 84.60l4.0 4.0M223.32 88.60l4.0 -4.0M223.67 84.35l4.0 4.0M223.67 88.35l4.0 -4.0M224.02 83.90l4.0 4.0M224.02 87.90l4.0 -4.0M224.37 83.32l4.0 4.0M224.37 87.32l4.0 -4.0M224.73 82.62l4.0 4.0M224.73 86.62l4.0 -4.0M225.08 81.89l4.0 4.0M225.08 85.89l4.0 -4.0M225.43 81.39l4.0 4.0M225.43 85.39l4.0 -4.0M225.78 80.45l4.0 4.0M225.78 84.45l4.0 -4.0M226.14 79.92l4.0 4.0M226.14 83.92l4.0 -4.0M226.49 80.77l4.0 4.0M226.49 84.77l4.0 -4.0M226.84 79.97l4.0 4.0M226.84 83.97l4.0 -4.0M227.20 79.96l4.0 4.0M227.20 83.96l4.0 -4.0M227.55 80.06l4.0 4.0M227.55 84.06l4.0 -4.0M227.90 79.82l4.0 4.0M227.90 83.82l4.0 -4.0M228.25 79.68l4.0 4.0M228.25 83.68l4.0 -4.0M228.61 79.65l4.0 4.0M228.61 83.65l4.0 -4.0M228.96 79.91l4.0 4.0M228.96 83.91l4.0 -4.0M229.31 79.75l4.0 4.0M229.31 83.75l4.0 -4.0M229.66 80.17l4.0 4.0M229.66 84.17l4.0 -4.0M230.02 79.53l4.0 4.0M230.02 83.53l4.0 -4.0M230.37 79.96l4.0 4.0M230.37 83.96l4.0 -4.0M230.72 79.90l4.0 4.0M230.72 83.90l4.0 -4.0M231.07 79.79l4.0 4.0M231.07 83.79l4.0 -4.0M231.43 79.67l4.0 4.0M231.43 83.67l4.0 -4.0M231.78 79.74l4.0 4.0M231.78 83.74l4.0 -4.0M232.13 79.56l4.0 4.0M232.13 83.56l4.0 -4.0M232.49 80.68l4.0 4.0M232.49 84.68l4.0 -4.0M232.84 80.34l4.0 4.0M232.84 84.34l4.0 -4.0M233.19 80.15l4.0 4.0M233.19 84.15l4.0 -4.0M233.54 80.12l4.0 4.0M233.54 84.12l4.0 -4.0M233.90 79.52l4.0 4.0M233.90 83.52l4.0 -4.0M234.25 79.90l4.0 4.0M234.25 83.90l4.0 -4.0M234.60 79.86l4.0 4.0M234.60 83.86l4.0 -4.0M234.95 80.42l4.0 4.0M234.95 84.42l4.0 -4.0M235.31 80.07l4.0 4.0M235.31 84.07l4.0 -4.0M235.66 80.43l4.0 4.0M235.66 84.43l4.0 -4.0M236.01 80.63l4.0 4.0M236.01 84.63l4.0 -4.0M236.36 79.57l4.0 4.0M236.36 83.57l4.0 -4.0M236.72 79.43l4.0 4.0M236.72 83.43l4.0 -4.0M237.07 79.56l4.0 4.0M237.07 83.56l4.0 -4.0M237.42 79.59l4.0 4.0M237.42 83.59l4.0 -4.0M237.78 80.08l4.0 4.0M237.78 84.08l4.0 -4.0M238.13 80.27l4.0 4.0M238.13 84.27l4.0 -4.0M238.48 79.93l4.0 4.0M238.48 83.93l4.0 -4.0M238.83 80.50l4.0 4.0M238.83 84.50l4.0 -4.0M239.19 80.12l4.0 4.0M239.19 84.12l4.0 -4.0M239.54 80.49l4.0 4.0M239.54 84.49l4.0 -4.0M239.89 80.16l4.0 4.0M239.89 84.16l4.0 -4.0M240.24 80.33l4.0 4.0M240.24 84.33l4.0 -4.0M240.60 79.57l4.0 4.0M240.60 83.57l4.0 -4.0M240.95 79.34l4.0 4.0M240.95 83.34l4.0 -4.0M241.30 79.66l4.0 4.0M241.30 83.66l4.0 -4.0M241.65 80.27l4.0 4.0M241.65 84.27l4.0 -4.0M242.01 80.30l4.0 4.0M242.01 84.30l4.0 -4.0M242.36 80.10l4.0 4.0M242.36 84.10l4.0 -4.0M242.71 80.26l4.0 4.0M242.71 84.26l4.0 -4.0M243.07 79.97l4.0 4.0M243.07 83.97l4.0 -4.0M243.42 79.58l4.0 4.0M243.42 83.58l4.0 -4.0M243.77 79.67l4.0 4.0M243.77 83.67l4.0 -4.0M244.12 79.83l4.0 4.0M244.12 83.83l4.0 -4.0M244.48 79.56l4.0 4.0M244.48 83.56l4.0 -4.0M244.83 79.73l4.0 4.0M244.83 83.73l4.0 -4.0M245.18 79.48l4.0 4.0M245.18 83.48l4.0 -4.0M245.53 79.68l4.0 4.0M245.53 83.68l4.0 -4.0M245.89 79.22l4.0 4.0M245.89 83.22l4.0 -4.0M246.24 79.52l4.0 4.0M246.24 83.52l4.0 -4.0M246.59 79.93l4.0 4.0M246.59 83.93l4.0 -4.0M246.94 79.83l4.0 4.0M246.94 83.83l4.0 -4.0M247.30 79.99l4.0 4.0M247.30 83.99l4.0 -4.0M247.65 80.18l4.0 4.0M247.65 84.18l4.0 -4.0M248.00 80.04l4.0 4.0M248.00 84.04l4.0 -4.0M248.36 79.70l4.0 4.0M248.36 83.70l4.0 -4.0M248.71 80.37l4.0 4.0M248.71 84.37l4.0 -4.0M249.06 80.14l4.0 4.0M249.06 84.14l4.0 -4.0M249.41 80.03l4.0 4.0M249.41 84.03l4.0 -4.0M249.77 79.96l4.0 4.0M249.77 83.96l4.0 -4.0M250.12 79.63l4.0 4.0M250.12 83.63l4.0 -4.0M250.47 80.07l4.0 4.0M250.47 84.07l4.0 -4.0M250.82 79.74l4.0 4.0M250.82 83.74l4.0 -4.0M251.18 79.81l4.0 4.0M251.18 83.81l4.0 -4.0M251.53 79.75l4.0 4.0M251.53 83.75l4.0 -4.0M251.88 79.82l4.0 4.0M251.88 83.82l4.0 -4.0M252.23 79.89l4.0 4.0M252.23 83.89l4.0 -4.0M252.59 79.99l4.0 4.0M252.59 83.99l4.0 -4.0M252.94 79.77l4.0 4.0M252.94 83.77l4.0 -4.0M253.29 79.12l4.0 4.0M253.29 83.12l4.0 -4.0M253.65 79.05l4.0 4.0M253.65 83.05l4.0 -4.0M254.00 79.07l4.0 4.0M254.00 83.07l4.0 -4.0M254.35 79.17l4.0 4.0M254.35 83.17l4.0 -4.0M254.70 79.54l4.0 4.0M254.70 83.54l4.0 -4.0M255.06 79.43l4.0 4.0M255.06 83.43l4.0 -4.0M255.41 78.93l4.0 4.0M255.41 82.93l4.0 -4.0M255.76 79.64l4.0 4.0M255.76 83.64l4.0 -4.0M256.11 79.42l4.0 4.0M256.11 83.42l4.0 -4.0M256.47 79.24l4.0 4.0M256.47 83.24l4.0 -4.0M256.82 79.35l4.0 4.0M256.82 83.35l4.0 -4.0M257.17 79.26l4.0 4.0M257.17 83.26l4.0 -4.0M257.52 79.02l4.0 4.0M257.52 83.02l4.0 -4.0M257.88 78.63l4.0 4.0M257.88 82.63l4.0 -4.0M258.23 78.67l4.0 4.0M258.23 82.67l4.0 -4.0M258.58 78.59l4.0 4.0M258.58 82.59l4.0 -4.0M258.94 78.94l4.0 4.0M258.94 82.94l4.0 -4.0M259.29 76.12l4.0 4.0M259.29 80.12l4.0 -4.0M259.64 74.33l4.0 4.0M259.64 78.33l4.0 -4.0M259.99 72.78l4.0 4.0M259.99 76.78l4.0 -4.0M260.35 71.63l4.0 4.0M260.35 75.63l4.0 -4.0M260.70 69.97l4.0 4.0M260.70 73.97l4.0 -4.0M261.05 68.00l4.0 4.0M261.05 72.00l4.0 -4.0M261.40 67.91l4.0 4.0M261.40 71.91l4.0 -4.0M261.76 67.23l4.0 4.0M261.76 71.23l4.0 -4.0M262.11 66.25l4.0 4.0M262.11 70.25l4.0 -4.0M262.46 65.97l4.0 4.0M262.46 69.97l4.0 -4.0M262.81 64.81l4.0 4.0M262.81 68.81l4.0 -4.0M263.17 64.55l4.0 4.0M263.17 68.55l4.0 -4.0M263.52 65.51l4.0 4.0M263.52 69.51l4.0 -4.0M263.87 65.90l4.0 4.0M263.87 69.90l4.0 -4.0M264.23 64.59l4.0 4.0M264.23 68.59l4.0 -4.0M264.58 63.91l4.0 4.0M264.58 67.91l4.0 -4.0M264.93 63.17l4.0 4.0M264.93 67.17l4.0 -4.0M265.28 63.55l4.0 4.0M265.28 67.55l4.0 -4.0M265.64 63.96l4.0 4.0M265.64 67.96l4.0 -4.0M265.99 65.89l4.0 4.0M265.99 69.89l4.0 -4.0M266.34 64.66l4.0 4.0M266.34 68.66l4.0 -4.0M266.69 66.09l4.0 4.0M266.69 70.09l4.0 -4.0M267.05 65.43l4.0 4.0M267.05 69.43l4.0 -4.0M267.40 67.07l4.0 4.0M267.40 71.07l4.0 -4.0M267.75 67.80l4.0 4.0M267.75 71.80l4.0 -4.0M268.10 67.66l4.0 4.0M268.10 71.66l4.0 -4.0M268.46 68.18l4.0 4.0M268.46 72.18l4.0 -4.0M268.81 68.83l4.0 4.0M268.81 72.83l4.0 -4.0M269.16 67.91l4.0 4.0M269.16 71.91l4.0 -4.0M269.52 67.61l4.0 4.0M269.52 71.61l4.0 -4.0M269.87 67.72l4.0 4.0M269.87 71.72l4.0 -4.0M270.22 68.44l4.0 4.0M270.22 72.44l4.0 -4.0M270.57 69.32l4.0 4.0M270.57 73.32l4.0 -4.0M270.93 69.56l4.0 4.0M270.93 73.56l4.0 -4.0M271.28 69.75l4.0 4.0M271.28 73.75l4.0 -4.0M271.63 69.45l4.0 4.0M271.63 73.45l4.0 -4.0M271.98 68.59l4.0 4.0M271.98 72.59l4.0 -4.0M272.34 68.88l4.0 4.0M272.34 72.88l4.0 -4.0M272.69 69.59l4.0 4.0M272.69 73.59l4.0 -4.0M273.04 69.86l4.0 4.0M273.04 73.86l4.0 -4.0M273.39 68.40l4.0 4.0M273.39 72.40l4.0 -4.0M273.75 68.48l4.0 4.0M273.75 72.48l4.0 -4.0M274.10 68.47l4.0 4.0M274.10 72.47l4.0 -4.0M274.45 68.42l4.0 4.0M274.45 72.42l4.0 -4.0M274.81 68.12l4.0 4.0M274.81 72.12l4.0 -4.0M275.16 68.33l4.0 4.0M275.16 72.33l4.0 -4.0M275.51 67.57l4.0 4.0M275.51 71.57l4.0 -4.0M275.86 67.42l4.0 4.0M275.86 71.42l4.0 -4.0M276.22 70.45l4.0 4.0M276.22 74.45l4.0 -4.0M276.57 69.96l4.0 4.0M276.57 73.96l4.0 -4.0M276.92 67.03l4.0 4.0M276.92 71.03l4.0 -4.0M277.27 68.88l4.0 4.0M277.27 72.88l4.0 -4.0M277.63 68.79l4.0 4.0M277.63 72.79l4.0 -4.0M277.98 67.92l4.0 4.0M277.98 71.92l4.0 -4.0M278.33 68.32l4.0 4.0M278.33 72.32l4.0 -4.0M278.68 67.42l4.0 4.0M278.68 71.42l4.0 -4.0M279.04 69.10l4.0 4.0M279.04 73.10l4.0 -4.0M279.39 70.10l4.0 4.0M279.39 74.10l4.0 -4.0M279.74 69.79l4.0 4.0M279.74 73.79l4.0 -4.0M280.10 70.07l4.0 4.0M280.10 74.07l4.0 -4.0M280.45 70.52l4.0 4.0M280.45 74.52l4.0 -4.0M280.80 69.39l4.0 4.0M280.80 73.39l4.0 -4.0M281.15 68.97l4.0 4.0M281.15 72.97l4.0 -4.0M281.51 68.94l4.0 4.0M281.51 72.94l4.0 -4.0M281.86 69.27l4.0 4.0M281.86 73.27l4.0 -4.0M282.21 68.90l4.0 4.0M282.21 72.90l4.0 -4.0M282.56 69.01l4.0 4.0M282.56 73.01l4.0 -4.0M282.92 69.59l4.0 4.0M282.92 73.59l4.0 -4.0M283.27 68.88l4.0 4.0M283.27 72.88l4.0 -4.0M283.62 68.58l4.0 4.0M283.62 72.58l4.0 -4.0M283.97 68.64l4.0 4.0M283.97 72.64l4.0 -4.0M284.33 68.16l4.0 4.0M284.33 72.16l4.0 -4.0M284.68 69.40l4.0 4.0M284.68 73.40l4.0 -4.0M285.03 69.33l4.0 4.0M285.03 73.33l4.0 -4.0M285.39 69.61l4.0 4.0M285.39 73.61l4.0 -4.0M285.74 68.19l4.0 4.0M285.74 72.19l4.0 -4.0M286.09 68.05l4.0 4.0M286.09 72.05l4.0 -4.0M286.44 66.59l4.0 4.0M286.44 70.59l4.0 -4.0M286.80 66.18l4.0 4.0M286.80 70.18l4.0 -4.0M287.15 67.59l4.0 4.0M287.15 71.59l4.0 -4.0M287.50 69.05l4.0 4.0M287.50 73.05l4.0 -4.0M287.85 68.58l4.0 4.0M287.85 72.58l4.0 -4.0M288.21 68.95l4.0 4.0M288.21 72.95l4.0 -4.0M288.56 69.07l4.0 4.0M288.56 73.07l4.0 -4.0M288.91 69.91l4.0 4.0M288.91 73.91l4.0 -4.0M289.26 69.00l4.0 4.0M289.26 73.00l4.0 -4.0M289.62 68.80l4.0 4.0M289.62 72.80l4.0 -4.0M289.97 68.50l4.0 4.0M289.97 72.50l4.0 -4.0M290.32 68.40l4.0 4.0M290.32 72.40l4.0 -4.0M290.68 69.37l4.0 4.0M290.68 73.37l4.0 -4.0M291.03 71.09l4.0 4.0M291.03 75.09l4.0 -4.0M291.38 70.45l4.0 4.0M291.38 74.45l4.0 -4.0M291.73 70.37l4.0 4.0M291.73 74.37l4.0 -4.0M292.09 70.24l4.0 4.0M292.09 74.24l4.0 -4.0M292.44 68.89l4.0 4.0M292.44 72.89l4.0 -4.0M292.79 68.98l4.0 4.0M292.79 72.98l4.0 -4.0M293.14 67.67l4.0 4.0M293.14 71.67l4.0 -4.0M293.50 68.01l4.0 4.0M293.50 72.01l4.0 -4.0M293.85 67.78l4.0 4.0M293.85 71.78l4.0 -4.0M294.20 67.80l4.0 4.0M294.20 71.80l4.0 -4.0M294.55 67.56l4.0 4.0M294.55 71.56l4.0 -4.0M294.91 69.17l4.0 4.0M294.91 73.17l4.0 -4.0M295.26 68.14l4.0 4.0M295.26 72.14l4.0 -4.0M295.61 68.35l4.0 4.0M295.61 72.35l4.0 -4.0M295.97 69.41l4.0 4.0M295.97 73.41l4.0 -4.0M296.32 68.68l4.0 4.0M296.32 72.68l4.0 -4.0M296.67 68.48l4.0 4.0M296.67 72.48l4.0 -4.0M297.02 67.56l4.0 4.0M297.02 71.56l4.0 -4.0M297.38 67.48l4.0 4.0M297.38 71.48l4.0 -4.0M297.73 67.74l4.0 4.0M297.73 71.74l4.0 -4.0M298.08 69.59l4.0 4.0M298.08 73.59l4.0 -4.0M298.43 67.89l4.0 4.0M298.43 71.89l4.0 -4.0M298.79 67.04l4.0 4.0M298.79 71.04l4.0 -4.0M299.14 67.12l4.0 4.0M299.14 71.12l4.0 -4.0M299.49 67.45l4.0 4.0M299.49 71.45l4.0 -4.0M299.84 67.00l4.0 4.0M299.84 71.00l4.0 -4.0M300.20 68.50l4.0 4.0M300.20 72.50l4.0 -4.0M300.55 68.07l4.0 4.0M300.55 72.07l4.0 -4.0M300.90 68.38l4.0 4.0M300.90 72.38l4.0 -4.0M301.26 69.45l4.0 4.0M301.26 73.45l4.0 -4.0M301.61 68.92l4.0 4.0M301.61 72.92l4.0 -4.0M301.96 68.61l4.0 4.0M301.96 72.61l4.0 -4.0M302.31 67.28l4.0 4.0M302.31 71.28l4.0 -4.0M302.67 67.13l4.0 4.0M302.67 71.13l4.0 -4.0M303.02 69.20l4.0 4.0M303.02 73.20l4.0 -4.0M303.37 70.75l4.0 4.0M303.37 74.75l4.0 -4.0M303.72 70.08l4.0 4.0M303.72 74.08l4.0 -4.0M304.08 69.79l4.0 4.0M304.08 73.79l4.0 -4.0M304.43 70.23l4.0 4.0M304.43 74.23l4.0 -4.0M304.78 70.94l4.0 4.0M304.78 74.94l4.0 -4.0M305.13 70.29l4.0 4.0M305.13 74.29l4.0 -4.0M305.49 70.72l4.0 4.0M305.49 74.72l4.0 -4.0M305.84 70.59l4.0 4.0M305.84 74.59l4.0 -4.0M306.19 69.18l4.0 4.0M306.19 73.18l4.0 -4.0M306.55 68.87l4.0 4.0M306.55 72.87l4.0 -4.0M306.90 69.53l4.0 4.0M306.90 73.53l4.0 -4.0M307.25 70.23l4.0 4.0M307.25 74.23l4.0 -4.0M307.60 69.86l4.0 4.0M307.60 73.86l4.0 -4.0M307.96 68.01l4.0 4.0M307.96 72.01l4.0 -4.0M308.31 68.80l4.0 4.0M308.31 72.80l4.0 -4.0M308.66 67.37l4.0 4.0M308.66 71.37l4.0 -4.0M309.01 68.66l4.0 4.0M309.01 72.66l4.0 -4.0M309.37 68.94l4.0 4.0M309.37 72.94l4.0 -4.0M309.72 68.33l4.0 4.0M309.72 72.33l4.0 -4.0M310.07 69.22l4.0 4.0M310.07 73.22l4.0 -4.0M310.42 69.05l4.0 4.0M310.42 73.05l4.0 -4.0M310.78 70.14l4.0 4.0M310.78 74.14l4.0 -4.0M311.13 69.09l4.0 4.0M311.13 73.09l4.0 -4.0M311.48 68.03l4.0 4.0M311.48 72.03l4.0 -4.0M311.84 68.93l4.0 4.0M311.84 72.93l4.0 -4.0M312.19 68.77l4.0 4.0M312.19 72.77l4.0 -4.0M312.54 69.17l4.0 4.0M312.54 73.17l4.0 -4.0M312.89 70.90l4.0 4.0M312.89 74.90l4.0 -4.0M313.25 67.77l4.0 4.0M313.25 71.77l4.0 -4.0M313.60 67.69l4.0 4.0M313.60 71.69l4.0 -4.0M313.95 67.47l4.0 4.0M313.95 71.47l4.0 -4.0M314.30 67.72l4.0 4.0M314.30 71.72l4.0 -4.0M314.66 68.05l4.0 4.0M314.66 72.05l4.0 -4.0M315.01 66.38l4.0 4.0M315.01 70.38l4.0 -4.0M315.36 68.94l4.0 4.0M315.36 72.94l4.0 -4.0M315.71 69.19l4.0 4.0M315.71 73.19l4.0 -4.0M316.07 69.44l4.0 4.0M316.07 73.44l4.0 -4.0M316.42 69.40l4.0 4.0M316.42 73.40l4.0 -4.0M316.77 68.61l4.0 4.0M316.77 72.61l4.0 -4.0M317.13 69.35l4.0 4.0M317.13 73.35l4.0 -4.0M317.48 70.30l4.0 4.0M317.48 74.30l4.0 -4.0M317.83 70.70l4.0 4.0M317.83 74.70l4.0 -4.0M318.18 69.60l4.0 4.0M318.18 73.60l4.0 -4.0M318.54 68.51l4.0 4.0M318.54 72.51l4.0 -4.0M318.89 67.98l4.0 4.0M318.89 71.98l4.0 -4.0M319.24 67.00l4.0 4.0M319.24 71.00l4.0 -4.0M319.59 68.20l4.0 4.0M319.59 72.20l4.0 -4.0M319.95 67.64l4.0 4.0M319.95 71.64l4.0 -4.0M320.30 67.57l4.0 4.0M320.30 71.57l4.0 -4.0M320.65 68.24l4.0 4.0M320.65 72.24l4.0 -4.0M321.00 69.15l4.0 4.0M321.00 73.15l4.0 -4.0M321.36 68.31l4.0 4.0M321.36 72.31l4.0 -4.0M321.71 69.13l4.0 4.0M321.71 73.13l4.0 -4.0M322.06 69.29l4.0 4.0M322.06 73.29l4.0 -4.0M322.42 69.97l4.0 4.0M322.42 73.97l4.0 -4.0M322.77 68.06l4.0 4.0M322.77 72.06l4.0 -4.0M323.12 68.44l4.0 4.0M323.12 72.44l4.0 -4.0M323.47 69.05l4.0 4.0M323.47 73.05l4.0 -4.0M323.83 69.21l4.0 4.0M323.83 73.21l4.0 -4.0M324.18 69.28l4.0 4.0M324.18 73.28l4.0 -4.0M324.53 69.06l4.0 4.0M324.53 73.06l4.0 -4.0M324.88 70.45l4.0 4.0M324.88 74.45l4.0 -4.0M325.24 70.82l4.0 4.0M325.24 74.82l4.0 -4.0M325.59 69.63l4.0 4.0M325.59 73.63l4.0 -4.0M325.94 68.42l4.0 4.0M325.94 72.42l4.0 -4.0M326.29 69.48l4.0 4.0M326.29 73.48l4.0 -4.0M326.65 69.15l4.0 4.0M326.65 73.15l4.0 -4.0M327.00 69.55l4.0 4.0M327.00 73.55l4.0 -4.0"/>
<rect x="225.2" y="11.3" width="35.2" height="29.0" fill="#fff" stroke="#222" stroke-width="0.6"/>
<circle cx="232.2" cy="19.7" r="2.75" fill="none" stroke="#0000ff" stroke-width="0.9"/>
<path d="M229.79999999999998 29.0l4.6 4.6M229.79999999999998 33.6l4.6 -4.6" stroke="#ff0000" stroke-width="0.9" fill="none"/>
<text x="237.60" y="22.60" font-size="9.6" text-anchor="start" >sFD</text>
<text x="237.00" y="34.50" font-size="9.6" text-anchor="start" >dFD</text>
<text x="223.20" y="101.90" font-size="13.6" text-anchor="middle" >0</text>
<text x="258.47" y="101.90" font-size="13.6" text-anchor="middle" >100</text>
<text x="293.73" y="101.90" font-size="13.6" text-anchor="middle" >200</text>
<text x="329.00" y="101.90" font-size="13.6" text-anchor="middle" >300</text>
<text x="217.60" y="90.90" font-size="13.6" text-anchor="end" >0</text>
<text x="217.60" y="13.60" font-size="13.6" text-anchor="end" >0.1</text>
<text x="173.00" y="76.44" font-size="13.6" text-anchor="start" >2</text>
<text x="184.80" y="76.44" font-size="13.6" text-anchor="middle" >·</text>
<text x="189.50" y="76.44" font-size="13.6" text-anchor="start" >10</text>
<text x="203.90" y="71.84" font-size="9.6" text-anchor="start" textLength="13.2" lengthAdjust="spacingAndGlyphs">−2</text>
<text x="173.00" y="60.98" font-size="13.6" text-anchor="start" >4</text>
<text x="184.80" y="60.98" font-size="13.6" text-anchor="middle" >·</text>
<text x="189.50" y="60.98" font-size="13.6" text-anchor="start" >10</text>
<text x="203.90" y="56.38" font-size="9.6" text-anchor="start" textLength="13.2" lengthAdjust="spacingAndGlyphs">−2</text>
<text x="173.00" y="45.52" font-size="13.6" text-anchor="start" >6</text>
<text x="184.80" y="45.52" font-size="13.6" text-anchor="middle" >·</text>
<text x="189.50" y="45.52" font-size="13.6" text-anchor="start" >10</text>
<text x="203.90" y="40.92" font-size="9.6" text-anchor="start" textLength="13.2" lengthAdjust="spacingAndGlyphs">−2</text>
<text x="173.00" y="30.06" font-size="13.6" text-anchor="start" >8</text>
<text x="184.80" y="30.06" font-size="13.6" text-anchor="middle" >·</text>
<text x="189.50" y="30.06" font-size="13.6" text-anchor="start" >10</text>
<text x="203.90" y="25.46" font-size="9.6" text-anchor="start" textLength="13.2" lengthAdjust="spacingAndGlyphs">−2</text>
<text x="276.00" y="122.30" font-size="13.6" text-anchor="middle" font-style="italic">k</text>
<clipPath id="c3"><rect x="59.5" y="127.5" width="254.0" height="77.4"/></clipPath>
<path d="M59.50 204.9 v-5.5 M59.50 127.5 v5.5" stroke="#808080" stroke-width="0.5" fill="none"/>
<path d="M101.83 204.9 v-5.5 M101.83 127.5 v5.5" stroke="#808080" stroke-width="0.5" fill="none"/>
<path d="M144.17 204.9 v-5.5 M144.17 127.5 v5.5" stroke="#808080" stroke-width="0.5" fill="none"/>
<path d="M186.50 204.9 v-5.5 M186.50 127.5 v5.5" stroke="#808080" stroke-width="0.5" fill="none"/>
<path d="M228.83 204.9 v-5.5 M228.83 127.5 v5.5" stroke="#808080" stroke-width="0.5" fill="none"/>
<path d="M271.17 204.9 v-5.5 M271.17 127.5 v5.5" stroke="#808080" stroke-width="0.5" fill="none"/>
<path d="M59.5 190.50 h5.5 M313.5 190.50 h-5.5" stroke="#808080" stroke-width="0.5" fill="none"/>
<path d="M59.5 166.00 h5.5 M313.5 166.00 h-5.5" stroke="#808080" stroke-width="0.5" fill="none"/>
<path d="M59.5 141.50 h5.5 M313.5 141.50 h-5.5" stroke="#808080" stroke-width="0.5" fill="none"/>
<rect x="59.5" y="127.5" width="254.0" height="77.4" fill="none" stroke="#000" stroke-width="0.6"/>
<path d="M59.60 166.00 L60.60 162.73 L61.60 159.93 L62.60 157.68 L63.60 155.83 L64.60 154.51 L65.60 153.62 L66.60 152.95 L67.60 152.43 L68.60 152.30 L69.60 151.82 L70.60 151.72 L71.60 151.52 L72.60 151.26 L73.60 151.39 L74.60 151.12 L75.60 151.07 L76.60 150.64 L77.60 151.02 L78.60 151.01 L79.60 150.70 L80.60 150.82 L81.60 150.79 L82.60 150.76 L83.60 150.78 L84.60 150.69 L85.60 150.71 L86.60 150.53 L87.60 150.50 L88.60 150.58 L89.60 150.61 L90.60 150.59 L91.60 150.52 L92.60 150.24 L93.60 150.52 L94.60 150.52 L95.60 150.46 L96.60 150.43 L97.60 150.32 L98.60 150.36 L99.60 150.21 L100.60 150.55 L101.60 150.47 L102.60 150.54 L103.60 150.42 L104.60 150.30 L105.60 150.35 L106.60 150.30 L107.60 150.26 L108.60 150.25 L109.60 150.14 L110.60 150.37 L111.60 150.32 L112.60 150.29 L113.60 150.49 L114.60 150.20 L115.60 150.23 L116.60 150.27 L117.60 150.43 L118.60 150.46 L119.60 150.51 L120.60 150.51 L121.60 150.40 L122.60 150.24 L123.60 150.13 L124.60 150.17 L125.60 150.22 L126.60 150.26 L127.60 150.29 L128.60 150.28 L129.60 150.17 L130.60 150.42 L131.60 150.09 L132.60 150.13 L133.60 150.08 L134.60 150.01 L135.60 150.14 L136.60 150.09 L137.60 150.02 L138.60 149.97 L139.60 149.70 L140.60 149.85 L141.60 149.80 L142.60 149.82 L143.60 149.99 L144.60 150.13 L145.60 150.00 L146.60 149.82 L147.60 149.80 L148.60 149.75 L149.60 149.90 L150.60 149.67 L151.60 149.48 L152.60 149.69 L153.60 149.76 L154.60 149.65 L155.60 149.75 L156.60 149.83 L157.60 149.85 L158.60 149.58 L159.60 149.56 L160.60 149.61 L161.60 149.63 L162.60 149.51 L163.60 149.67 L164.60 149.48 L165.60 149.55 L166.60 149.57 L167.60 149.62 L168.60 149.67 L169.60 149.60 L170.60 149.72 L171.60 149.52 L172.60 149.24 L173.60 149.35 L174.60 149.38 L175.60 149.29 L176.60 149.19 L177.60 149.06 L178.60 149.18 L179.60 149.32 L180.60 149.47 L181.60 149.35 L182.60 149.18 L183.60 149.24 L184.60 149.08 L185.60 149.23 L186.60 149.23 L187.60 149.15 L188.60 149.08 L189.60 148.90 L190.60 148.77 L191.60 148.70 L192.60 148.72 L193.60 148.56 L194.60 148.73 L195.60 148.86 L196.60 148.70 L197.60 148.58 L198.60 148.66 L199.60 148.15 L200.60 148.00 L201.60 147.94 L202.60 147.61 L203.60 147.15 L204.60 146.96 L205.60 146.72 L206.60 146.63 L207.60 146.27 L208.60 145.89 L209.60 145.69 L210.60 145.40 L211.60 144.92 L212.60 144.56 L213.60 144.12 L214.60 143.69 L215.60 143.38 L216.60 142.89 L217.60 142.72 L218.60 142.49 L219.60 142.10 L220.60 141.66 L221.60 141.20 L222.60 140.98 L223.60 140.39 L224.60 140.07 L225.60 139.69 L226.60 139.05 L227.60 138.63 L228.60 138.28 L229.60 137.67 L230.60 137.14 L231.60 136.59 L232.60 135.95 L233.60 135.42 L234.60 134.52 L235.60 133.94 L236.60 133.01 L237.60 132.24 L238.60 131.71 L239.60 130.93 L240.60 130.01 L241.60 129.27 L242.60 128.45 L243.60 127.93 L244.60 127.06 L245.60 126.35 L246.60 125.40 L247.60 124.76 L248.60 123.78 L249.60 122.69 L250.60 122.03 L251.60 120.97 L252.60 119.93 L253.60 119.04 L254.60 117.72 L255.60 116.60 L256.60 115.53 L257.60 114.38 L258.60 113.21 L259.60 112.23 L260.60 111.10 L261.60 110.17 L262.60 109.08 L263.60 107.81 L264.60 106.63 L265.60 105.53 L266.60 104.51 L267.60 103.44 L268.60 102.37 L269.60 101.02 L270.60 99.83 L271.60 98.52 L272.60 97.54 L273.60 96.32 L274.60 95.17 L275.60 94.26 L276.60 93.02 L277.60 91.92 L278.60 90.72 L279.60 89.48 L280.60 88.53 L281.60 87.25 L282.60 85.65 L283.60 84.16 L284.60 83.00 L285.60 81.89 L286.60 80.71 L287.60 79.53 L288.60 78.16 L289.60 76.72 L290.60 75.46 L291.60 74.11 L292.60 72.99 L293.60 71.71 L294.60 70.39 L295.60 69.09 L296.60 67.91 L297.60 66.66 L298.60 65.39 L299.60 64.09 L300.60 62.82 L301.60 61.53 L302.60 60.19 L303.60 58.67 L304.60 57.37 L305.60 55.99 L306.60 54.72 L307.60 53.31 L308.60 51.85 L309.60 50.59 L310.60 49.16 L311.60 48.00 L312.60 46.67 L313.60 45.10 L314.60 43.59 L314.60 288.19 L313.60 286.66 L312.60 285.31 L311.60 284.00 L310.60 282.56 L309.60 281.17 L308.60 279.88 L307.60 278.57 L306.60 277.15 L305.60 275.85 L304.60 274.69 L303.60 273.37 L302.60 271.84 L301.60 270.57 L300.60 269.37 L299.60 268.08 L298.60 266.52 L297.60 265.06 L296.60 263.82 L295.60 262.62 L294.60 261.26 L293.60 260.11 L292.60 258.72 L291.60 257.43 L290.60 256.42 L289.60 255.12 L288.60 253.81 L287.60 252.53 L286.60 251.34 L285.60 250.10 L284.60 248.82 L283.60 247.48 L282.60 246.23 L281.60 244.91 L280.60 243.72 L279.60 242.46 L278.60 241.52 L277.60 240.56 L276.60 239.20 L275.60 237.93 L274.60 236.73 L273.60 235.50 L272.60 234.16 L271.60 233.31 L270.60 232.10 L269.60 230.96 L268.60 229.82 L267.60 228.71 L266.60 227.59 L265.60 226.49 L264.60 224.93 L263.60 224.10 L262.60 222.88 L261.60 221.67 L260.60 220.63 L259.60 219.49 L258.60 218.55 L257.60 217.40 L256.60 216.29 L255.60 215.17 L254.60 214.06 L253.60 213.04 L252.60 212.06 L251.60 211.11 L250.60 210.10 L249.60 209.21 L248.60 208.21 L247.60 207.11 L246.60 206.24 L245.60 205.78 L244.60 204.83 L243.60 204.05 L242.60 203.21 L241.60 202.61 L240.60 201.82 L239.60 201.10 L238.60 200.26 L237.60 199.76 L236.60 198.98 L235.60 198.20 L234.60 197.66 L233.60 196.90 L232.60 196.08 L231.60 195.40 L230.60 194.93 L229.60 194.51 L228.60 193.88 L227.60 193.38 L226.60 192.94 L225.60 192.61 L224.60 192.06 L223.60 191.53 L222.60 191.32 L221.60 190.94 L220.60 190.56 L219.60 190.22 L218.60 189.50 L217.60 189.10 L216.60 188.78 L215.60 188.31 L214.60 187.98 L213.60 187.45 L212.60 187.07 L211.60 186.84 L210.60 186.34 L209.60 186.17 L208.60 185.93 L207.60 185.78 L206.60 185.50 L205.60 185.31 L204.60 185.12 L203.60 184.61 L202.60 184.28 L201.60 183.98 L200.60 183.82 L199.60 183.79 L198.60 183.76 L197.60 183.57 L196.60 183.43 L195.60 183.34 L194.60 183.16 L193.60 183.30 L192.60 183.22 L191.60 182.86 L190.60 182.75 L189.60 182.77 L188.60 183.04 L187.60 182.84 L186.60 183.01 L185.60 182.95 L184.60 182.79 L183.60 182.74 L182.60 182.66 L181.60 182.71 L180.60 182.74 L179.60 182.62 L178.60 182.65 L177.60 182.68 L176.60 182.53 L175.60 182.41 L174.60 182.43 L173.60 182.60 L172.60 182.46 L171.60 182.58 L170.60 182.47 L169.60 182.56 L168.60 182.26 L167.60 182.19 L166.60 182.36 L165.60 182.47 L164.60 182.36 L163.60 182.14 L162.60 182.20 L161.60 182.20 L160.60 181.96 L159.60 182.08 L158.60 182.26 L157.60 182.31 L156.60 182.25 L155.60 182.17 L154.60 182.20 L153.60 182.19 L152.60 182.25 L151.60 182.15 L150.60 182.16 L149.60 182.10 L148.60 182.36 L147.60 182.38 L146.60 182.17 L145.60 182.02 L144.60 181.90 L143.60 181.91 L142.60 182.07 L141.60 181.94 L140.60 182.10 L139.60 182.03 L138.60 182.11 L137.60 181.99 L136.60 182.00 L135.60 181.84 L134.60 181.87 L133.60 181.94 L132.60 182.07 L131.60 181.94 L130.60 182.06 L129.60 182.11 L128.60 182.13 L127.60 181.93 L126.60 181.83 L125.60 181.97 L124.60 182.03 L123.60 181.90 L122.60 181.77 L121.60 181.98 L120.60 181.77 L119.60 181.85 L118.60 181.71 L117.60 181.73 L116.60 181.66 L115.60 181.62 L114.60 181.67 L113.60 181.70 L112.60 181.65 L111.60 181.67 L110.60 181.67 L109.60 181.84 L108.60 181.77 L107.60 181.74 L106.60 181.78 L105.60 181.67 L104.60 181.63 L103.60 181.85 L102.60 181.72 L101.60 181.77 L100.60 181.44 L99.60 181.44 L98.60 181.44 L97.60 181.31 L96.60 181.17 L95.60 181.39 L94.60 181.32 L93.60 181.34 L92.60 181.41 L91.60 181.58 L90.60 181.40 L89.60 181.14 L88.60 181.36 L87.60 181.37 L86.60 181.19 L85.60 181.03 L84.60 181.16 L83.60 181.30 L82.60 181.30 L81.60 181.18 L80.60 180.97 L79.60 180.93 L78.60 181.09 L77.60 181.11 L76.60 180.83 L75.60 180.90 L74.60 180.93 L73.60 180.87 L72.60 180.75 L71.60 180.61 L70.60 180.50 L69.60 180.22 L68.60 179.95 L67.60 179.47 L66.60 178.97 L65.60 178.39 L64.60 177.47 L63.60 176.18 L62.60 174.31 L61.60 172.07 L60.60 169.27 L59.60 166.00Z" fill="#cccccc" stroke="#4d4d4d" stroke-width="0.45" stroke-linejoin="round" clip-path="url(#c3)"/>
<path d="M59.60 166.00 L60.60 164.04 L61.60 162.38 L62.60 161.06 L63.60 160.01 L64.60 159.23 L65.60 158.50 L66.60 157.87 L67.60 157.49 L68.60 157.25 L69.60 156.88 L70.60 156.76 L71.60 156.61 L72.60 156.53 L73.60 156.74 L74.60 156.57 L75.60 156.69 L76.60 156.61 L77.60 156.31 L78.60 156.00 L79.60 156.07 L80.60 156.06 L81.60 156.14 L82.60 156.06 L83.60 156.26 L84.60 156.11 L85.60 156.10 L86.60 156.11 L87.60 156.05 L88.60 155.90 L89.60 155.82 L90.60 155.75 L91.60 155.76 L92.60 155.70 L93.60 155.80 L94.60 155.85 L95.60 155.97 L96.60 155.93 L97.60 155.86 L98.60 155.91 L99.60 155.87 L100.60 155.83 L101.60 155.72 L102.60 155.52 L103.60 155.65 L104.60 155.67 L105.60 155.72 L106.60 155.78 L107.60 155.73 L108.60 155.61 L109.60 155.66 L110.60 155.47 L111.60 155.74 L112.60 155.84 L113.60 155.95 L114.60 155.72 L115.60 155.60 L116.60 155.49 L117.60 155.55 L118.60 155.57 L119.60 155.50 L120.60 155.43 L121.60 155.52 L122.60 155.55 L123.60 155.48 L124.60 155.56 L125.60 155.52 L126.60 155.83 L127.60 155.53 L128.60 155.64 L129.60 155.36 L130.60 155.28 L131.60 155.46 L132.60 155.44 L133.60 155.72 L134.60 155.65 L135.60 155.55 L136.60 155.59 L137.60 155.54 L138.60 155.43 L139.60 155.45 L140.60 155.47 L141.60 155.45 L142.60 155.44 L143.60 155.28 L144.60 155.27 L145.60 155.41 L146.60 155.48 L147.60 155.62 L148.60 155.56 L149.60 155.42 L150.60 155.35 L151.60 155.45 L152.60 155.41 L153.60 155.58 L154.60 155.55 L155.60 155.46 L156.60 155.60 L157.60 155.58 L158.60 155.33 L159.60 155.40 L160.60 155.50 L161.60 155.48 L162.60 155.54 L163.60 155.59 L164.60 155.67 L165.60 155.75 L166.60 155.34 L167.60 155.28 L168.60 155.18 L169.60 155.26 L170.60 155.34 L171.60 155.35 L172.60 155.43 L173.60 155.32 L174.60 155.18 L175.60 155.24 L176.60 155.27 L177.60 155.26 L178.60 155.44 L179.60 155.23 L180.60 155.22 L181.60 155.06 L182.60 155.05 L183.60 155.17 L184.60 155.06 L185.60 154.90 L186.60 155.12 L187.60 155.32 L188.60 155.38 L189.60 154.98 L190.60 154.86 L191.60 154.79 L192.60 154.85 L193.60 154.60 L194.60 154.61 L195.60 154.67 L196.60 154.76 L197.60 154.66 L198.60 154.59 L199.60 154.50 L200.60 154.40 L201.60 154.25 L202.60 154.23 L203.60 154.07 L204.60 153.83 L205.60 153.66 L206.60 153.35 L207.60 152.94 L208.60 153.06 L209.60 152.70 L210.60 152.36 L211.60 152.18 L212.60 151.86 L213.60 151.80 L214.60 151.66 L215.60 151.44 L216.60 151.66 L217.60 151.39 L218.60 151.18 L219.60 150.77 L220.60 150.27 L221.60 150.21 L222.60 149.92 L223.60 149.68 L224.60 149.20 L225.60 148.87 L226.60 148.56 L227.60 148.44 L228.60 148.12 L229.60 147.72 L230.60 147.35 L231.60 146.78 L232.60 146.47 L233.60 146.02 L234.60 145.78 L235.60 145.18 L236.60 144.43 L237.60 144.15 L238.60 143.52 L239.60 143.17 L240.60 142.45 L241.60 141.75 L242.60 140.86 L243.60 140.11 L244.60 139.24 L245.60 138.56 L246.60 137.60 L247.60 136.80 L248.60 135.77 L249.60 134.98 L250.60 134.07 L251.60 133.08 L252.60 132.16 L253.60 131.36 L254.60 130.22 L255.60 129.23 L256.60 128.24 L257.60 127.43 L258.60 126.39 L259.60 125.43 L260.60 124.47 L261.60 123.22 L262.60 121.93 L263.60 121.00 L264.60 119.77 L265.60 118.24 L266.60 116.84 L267.60 115.61 L268.60 114.13 L269.60 112.68 L270.60 111.44 L271.60 109.97 L272.60 108.46 L273.60 106.82 L274.60 105.34 L275.60 103.90 L276.60 102.64 L277.60 101.31 L278.60 99.88 L279.60 98.58 L280.60 97.18 L281.60 95.60 L282.60 94.16 L283.60 92.78 L284.60 91.35 L285.60 89.76 L286.60 88.37 L287.60 87.24 L288.60 85.50 L289.60 83.96 L290.60 82.52 L291.60 80.84 L292.60 79.46 L293.60 77.88 L294.60 76.43 L295.60 75.04 L296.60 73.44 L297.60 72.06 L298.60 70.53 L299.60 68.95 L300.60 67.51 L301.60 65.83 L302.60 64.11 L303.60 62.54 L304.60 60.99 L305.60 59.47 L306.60 58.13 L307.60 56.71 L308.60 54.95 L309.60 53.31 L310.60 51.66 L311.60 50.18 L312.60 48.72 L313.60 46.79 L314.60 44.91 L314.60 286.88 L313.60 285.55 L312.60 283.73 L311.60 282.18 L310.60 280.70 L309.60 279.03 L308.60 277.30 L307.60 275.74 L306.60 274.19 L305.60 272.48 L304.60 270.75 L303.60 269.26 L302.60 267.74 L301.60 265.99 L300.60 264.44 L299.60 262.87 L298.60 261.42 L297.60 259.84 L296.60 258.35 L295.60 257.14 L294.60 255.50 L293.60 254.06 L292.60 252.56 L291.60 251.00 L290.60 249.54 L289.60 248.15 L288.60 246.40 L287.60 244.91 L286.60 243.38 L285.60 241.95 L284.60 240.55 L283.60 239.43 L282.60 237.73 L281.60 236.41 L280.60 235.04 L279.60 233.69 L278.60 232.14 L277.60 230.73 L276.60 229.31 L275.60 227.80 L274.60 226.42 L273.60 225.16 L272.60 223.56 L271.60 222.31 L270.60 220.77 L269.60 219.53 L268.60 218.08 L267.60 216.69 L266.60 215.18 L265.60 213.75 L264.60 212.64 L263.60 211.46 L262.60 210.32 L261.60 209.18 L260.60 208.16 L259.60 206.90 L258.60 205.71 L257.60 204.60 L256.60 203.47 L255.60 202.45 L254.60 201.73 L253.60 200.72 L252.60 199.88 L251.60 198.83 L250.60 198.02 L249.60 197.03 L248.60 196.13 L247.60 195.03 L246.60 194.18 L245.60 193.41 L244.60 192.62 L243.60 191.60 L242.60 190.92 L241.60 190.32 L240.60 189.61 L239.60 188.88 L238.60 188.21 L237.60 187.65 L236.60 187.04 L235.60 186.55 L234.60 186.41 L233.60 186.11 L232.60 185.71 L231.60 185.33 L230.60 184.94 L229.60 184.52 L228.60 184.15 L227.60 183.76 L226.60 183.11 L225.60 182.81 L224.60 182.31 L223.60 182.11 L222.60 182.02 L221.60 181.76 L220.60 181.57 L219.60 181.35 L218.60 181.16 L217.60 180.79 L216.60 180.49 L215.60 180.26 L214.60 179.90 L213.60 179.78 L212.60 179.43 L211.60 179.38 L210.60 179.12 L209.60 179.08 L208.60 178.97 L207.60 178.89 L206.60 178.72 L205.60 178.37 L204.60 178.16 L203.60 178.17 L202.60 177.79 L201.60 177.49 L200.60 177.37 L199.60 177.44 L198.60 177.25 L197.60 177.38 L196.60 177.28 L195.60 177.33 L194.60 177.16 L193.60 177.06 L192.60 177.18 L191.60 177.04 L190.60 177.33 L189.60 176.96 L188.60 176.92 L187.60 176.83 L186.60 176.83 L185.60 176.76 L184.60 176.68 L183.60 176.88 L182.60 176.74 L181.60 176.94 L180.60 177.10 L179.60 176.84 L178.60 176.91 L177.60 177.10 L176.60 176.85 L175.60 176.85 L174.60 176.79 L173.60 176.85 L172.60 176.60 L171.60 176.71 L170.60 176.61 L169.60 176.60 L168.60 176.65 L167.60 176.54 L166.60 176.66 L165.60 176.79 L164.60 176.72 L163.60 176.62 L162.60 176.63 L161.60 176.57 L160.60 176.52 L159.60 176.37 L158.60 176.36 L157.60 176.27 L156.60 176.22 L155.60 176.41 L154.60 176.23 L153.60 176.36 L152.60 176.33 L151.60 176.42 L150.60 176.30 L149.60 176.41 L148.60 176.62 L147.60 176.67 L146.60 176.53 L145.60 176.33 L144.60 176.37 L143.60 176.44 L142.60 176.52 L141.60 176.47 L140.60 176.53 L139.60 176.49 L138.60 176.52 L137.60 176.35 L136.60 176.59 L135.60 176.58 L134.60 176.44 L133.60 176.34 L132.60 176.45 L131.60 176.59 L130.60 176.73 L129.60 176.64 L128.60 176.58 L127.60 176.64 L126.60 176.61 L125.60 176.39 L124.60 176.43 L123.60 176.24 L122.60 176.16 L121.60 176.52 L120.60 176.57 L119.60 176.64 L118.60 176.61 L117.60 176.53 L116.60 176.56 L115.60 176.53 L114.60 176.20 L113.60 176.13 L112.60 176.19 L111.60 176.36 L110.60 176.18 L109.60 176.11 L108.60 176.38 L107.60 176.31 L106.60 176.57 L105.60 176.52 L104.60 176.19 L103.60 176.24 L102.60 176.25 L101.60 176.31 L100.60 176.24 L99.60 176.33 L98.60 176.32 L97.60 176.29 L96.60 176.15 L95.60 176.25 L94.60 176.17 L93.60 176.27 L92.60 176.33 L91.60 176.29 L90.60 176.20 L89.60 176.03 L88.60 176.06 L87.60 175.91 L86.60 175.91 L85.60 175.83 L84.60 175.75 L83.60 175.97 L82.60 175.60 L81.60 175.89 L80.60 175.90 L79.60 175.82 L78.60 175.83 L77.60 175.76 L76.60 175.85 L75.60 175.51 L74.60 175.47 L73.60 175.31 L72.60 175.37 L71.60 175.27 L70.60 175.00 L69.60 174.99 L68.60 174.68 L67.60 174.52 L66.60 174.06 L65.60 173.48 L64.60 172.74 L63.60 172.02 L62.60 170.94 L61.60 169.62 L60.60 167.96 L59.60 166.00Z" fill="#b3b3b3" stroke="#4d4d4d" stroke-width="0.45" stroke-linejoin="round" clip-path="url(#c3)"/>
<path d="M59.60 166.00 L60.60 164.96 L61.60 164.07 L62.60 163.38 L63.60 162.82 L64.60 162.42 L65.60 162.06 L66.60 161.74 L67.60 161.71 L68.60 161.50 L69.60 161.44 L70.60 161.72 L71.60 161.39 L72.60 161.50 L73.60 161.14 L74.60 161.10 L75.60 161.36 L76.60 161.25 L77.60 161.13 L78.60 161.19 L79.60 161.33 L80.60 161.28 L81.60 161.25 L82.60 161.22 L83.60 161.05 L84.60 161.12 L85.60 161.35 L86.60 161.42 L87.60 161.48 L88.60 161.45 L89.60 161.51 L90.60 161.55 L91.60 161.28 L92.60 161.20 L93.60 161.31 L94.60 161.08 L95.60 161.13 L96.60 161.05 L97.60 161.24 L98.60 161.19 L99.60 160.93 L100.60 160.92 L101.60 161.05 L102.60 161.11 L103.60 160.97 L104.60 161.19 L105.60 161.19 L106.60 161.14 L107.60 161.15 L108.60 161.04 L109.60 160.90 L110.60 161.15 L111.60 161.09 L112.60 161.00 L113.60 161.04 L114.60 160.90 L115.60 161.06 L116.60 161.12 L117.60 161.32 L118.60 161.12 L119.60 161.33 L120.60 161.34 L121.60 161.09 L122.60 161.01 L123.60 161.03 L124.60 160.76 L125.60 160.74 L126.60 160.75 L127.60 160.98 L128.60 161.17 L129.60 160.97 L130.60 161.15 L131.60 161.02 L132.60 161.00 L133.60 161.06 L134.60 161.08 L135.60 160.88 L136.60 160.93 L137.60 161.06 L138.60 161.28 L139.60 161.18 L140.60 161.26 L141.60 161.24 L142.60 161.23 L143.60 161.21 L144.60 161.27 L145.60 161.40 L146.60 161.32 L147.60 161.21 L148.60 161.25 L149.60 161.15 L150.60 161.04 L151.60 161.19 L152.60 161.26 L153.60 161.46 L154.60 161.26 L155.60 161.32 L156.60 161.25 L157.60 161.15 L158.60 161.10 L159.60 161.00 L160.60 161.06 L161.60 160.99 L162.60 161.21 L163.60 160.94 L164.60 161.07 L165.60 160.99 L166.60 160.99 L167.60 161.08 L168.60 161.04 L169.60 161.14 L170.60 161.24 L171.60 161.19 L172.60 161.24 L173.60 161.05 L174.60 161.00 L175.60 161.12 L176.60 160.86 L177.60 160.91 L178.60 161.13 L179.60 160.99 L180.60 161.17 L181.60 161.05 L182.60 160.96 L183.60 161.01 L184.60 160.98 L185.60 161.04 L186.60 160.97 L187.60 161.08 L188.60 161.03 L189.60 160.92 L190.60 160.80 L191.60 160.93 L192.60 160.88 L193.60 160.81 L194.60 160.74 L195.60 160.88 L196.60 161.11 L197.60 160.80 L198.60 160.68 L199.60 160.54 L200.60 160.45 L201.60 160.44 L202.60 160.35 L203.60 160.40 L204.60 160.20 L205.60 160.00 L206.60 159.81 L207.60 159.61 L208.60 159.44 L209.60 159.33 L210.60 159.32 L211.60 159.44 L212.60 159.34 L213.60 159.15 L214.60 159.01 L215.60 159.03 L216.60 158.82 L217.60 158.36 L218.60 158.45 L219.60 158.27 L220.60 158.14 L221.60 157.98 L222.60 157.90 L223.60 157.93 L224.60 157.61 L225.60 157.55 L226.60 157.21 L227.60 156.99 L228.60 156.64 L229.60 156.53 L230.60 156.34 L231.60 155.96 L232.60 155.67 L233.60 155.60 L234.60 155.36 L235.60 155.22 L236.60 154.93 L237.60 154.39 L238.60 153.93 L239.60 153.61 L240.60 153.23 L241.60 153.03 L242.60 152.60 L243.60 152.14 L244.60 151.74 L245.60 151.23 L246.60 150.84 L247.60 150.48 L248.60 150.07 L249.60 149.66 L250.60 149.47 L251.60 149.07 L252.60 148.53 L253.60 147.94 L254.60 147.48 L255.60 146.97 L256.60 146.37 L257.60 145.65 L258.60 144.96 L259.60 144.19 L260.60 143.44 L261.60 142.49 L262.60 141.39 L263.60 140.69 L264.60 139.59 L265.60 138.44 L266.60 137.34 L267.60 135.87 L268.60 134.56 L269.60 133.37 L270.60 131.93 L271.60 130.80 L272.60 129.41 L273.60 127.97 L274.60 126.74 L275.60 125.31 L276.60 123.62 L277.60 121.91 L278.60 120.26 L279.60 118.37 L280.60 116.39 L281.60 114.46 L282.60 112.16 L283.60 109.63 L284.60 107.49 L285.60 105.39 L286.60 103.52 L287.60 101.15 L288.60 99.16 L289.60 96.77 L290.60 94.58 L291.60 92.69 L292.60 90.55 L293.60 88.43 L294.60 86.24 L295.60 84.11 L296.60 81.92 L297.60 79.64 L298.60 77.23 L299.60 75.00 L300.60 72.78 L301.60 70.58 L302.60 68.17 L303.60 65.94 L304.60 63.76 L305.60 61.34 L306.60 59.02 L307.60 56.65 L308.60 54.21 L309.60 51.72 L310.60 49.28 L311.60 46.92 L312.60 44.47 L313.60 41.74 L314.60 39.57 L314.60 292.35 L313.60 289.82 L312.60 287.29 L311.60 284.91 L310.60 282.58 L309.60 280.17 L308.60 277.95 L307.60 275.42 L306.60 272.99 L305.60 270.65 L304.60 268.34 L303.60 265.91 L302.60 263.70 L301.60 261.30 L300.60 258.98 L299.60 256.65 L298.60 254.58 L297.60 252.44 L296.60 250.41 L295.60 248.10 L294.60 246.00 L293.60 243.67 L292.60 241.63 L291.60 239.63 L290.60 237.13 L289.60 234.95 L288.60 232.82 L287.60 230.48 L286.60 228.42 L285.60 226.33 L284.60 224.17 L283.60 222.15 L282.60 220.13 L281.60 217.94 L280.60 215.88 L279.60 213.84 L278.60 211.89 L277.60 210.00 L276.60 208.35 L275.60 206.65 L274.60 205.18 L273.60 203.69 L272.60 202.30 L271.60 201.00 L270.60 199.97 L269.60 198.64 L268.60 197.19 L267.60 195.96 L266.60 194.67 L265.60 193.53 L264.60 192.51 L263.60 191.19 L262.60 190.52 L261.60 189.68 L260.60 188.73 L259.60 187.81 L258.60 186.97 L257.60 186.31 L256.60 185.78 L255.60 185.21 L254.60 184.65 L253.60 183.98 L252.60 183.33 L251.60 183.10 L250.60 182.61 L249.60 182.13 L248.60 181.46 L247.60 181.07 L246.60 180.83 L245.60 180.54 L244.60 180.10 L243.60 179.78 L242.60 179.28 L241.60 178.98 L240.60 178.51 L239.60 178.26 L238.60 177.79 L237.60 177.42 L236.60 177.29 L235.60 176.96 L234.60 176.90 L233.60 176.53 L232.60 176.05 L231.60 175.96 L230.60 175.54 L229.60 175.31 L228.60 175.37 L227.60 175.01 L226.60 174.68 L225.60 174.29 L224.60 174.07 L223.60 174.06 L222.60 173.86 L221.60 173.96 L220.60 173.74 L219.60 173.40 L218.60 173.46 L217.60 173.37 L216.60 173.19 L215.60 173.05 L214.60 172.86 L213.60 172.65 L212.60 172.51 L211.60 172.57 L210.60 172.30 L209.60 172.15 L208.60 172.11 L207.60 171.91 L206.60 171.73 L205.60 171.75 L204.60 171.83 L203.60 171.94 L202.60 172.00 L201.60 171.80 L200.60 171.91 L199.60 171.81 L198.60 171.53 L197.60 171.56 L196.60 171.49 L195.60 171.41 L194.60 171.00 L193.60 171.09 L192.60 171.08 L191.60 171.02 L190.60 171.10 L189.60 171.12 L188.60 171.00 L187.60 170.99 L186.60 171.02 L185.60 171.02 L184.60 171.19 L183.60 171.06 L182.60 171.13 L181.60 171.17 L180.60 171.04 L179.60 171.31 L178.60 171.17 L177.60 170.92 L176.60 170.94 L175.60 170.95 L174.60 170.95 L173.60 170.91 L172.60 170.88 L171.60 170.93 L170.60 170.94 L169.60 170.93 L168.60 170.92 L167.60 170.76 L166.60 170.78 L165.60 171.05 L164.60 171.18 L163.60 171.10 L162.60 171.15 L161.60 170.98 L160.60 171.10 L159.60 171.00 L158.60 171.11 L157.60 171.06 L156.60 171.27 L155.60 171.05 L154.60 171.09 L153.60 171.16 L152.60 171.17 L151.60 171.19 L150.60 171.11 L149.60 170.97 L148.60 171.08 L147.60 171.22 L146.60 171.01 L145.60 170.88 L144.60 171.10 L143.60 171.17 L142.60 171.26 L141.60 171.30 L140.60 171.10 L139.60 171.21 L138.60 171.34 L137.60 171.32 L136.60 170.97 L135.60 170.95 L134.60 171.03 L133.60 170.77 L132.60 170.87 L131.60 170.80 L130.60 170.72 L129.60 170.73 L128.60 170.81 L127.60 170.83 L126.60 170.96 L125.60 170.81 L124.60 170.72 L123.60 170.69 L122.60 170.68 L121.60 170.84 L120.60 170.65 L119.60 170.55 L118.60 170.60 L117.60 170.77 L116.60 171.03 L115.60 171.09 L114.60 170.82 L113.60 171.02 L112.60 170.86 L111.60 170.92 L110.60 170.90 L109.60 170.95 L108.60 171.19 L107.60 170.95 L106.60 170.85 L105.60 171.00 L104.60 170.91 L103.60 171.04 L102.60 170.92 L101.60 170.82 L100.60 170.81 L99.60 170.82 L98.60 170.75 L97.60 170.70 L96.60 170.81 L95.60 170.77 L94.60 170.73 L93.60 170.76 L92.60 170.82 L91.60 170.78 L90.60 170.76 L89.60 170.93 L88.60 170.83 L87.60 170.76 L86.60 170.92 L85.60 170.82 L84.60 170.59 L83.60 170.59 L82.60 170.61 L81.60 170.55 L80.60 170.57 L79.60 170.61 L78.60 170.61 L77.60 170.62 L76.60 170.62 L75.60 170.62 L74.60 170.67 L73.60 170.45 L72.60 170.63 L71.60 170.69 L70.60 170.76 L69.60 170.64 L68.60 170.44 L67.60 170.58 L66.60 170.29 L65.60 170.04 L64.60 169.62 L63.60 169.19 L62.60 168.64 L61.60 167.93 L60.60 167.04 L59.60 166.00Z" fill="#999999" stroke="#4d4d4d" stroke-width="0.45" stroke-linejoin="round" clip-path="url(#c3)"/>
<text x="59.50" y="219.30" font-size="13.6" text-anchor="middle" >0</text>
<text x="101.83" y="219.30" font-size="13.6" text-anchor="middle" >50</text>
<text x="144.17" y="219.30" font-size="13.6" text-anchor="middle" >100</text>
<text x="186.50" y="219.30" font-size="13.6" text-anchor="middle" >150</text>
<text x="228.83" y="219.30" font-size="13.6" text-anchor="middle" >200</text>
<text x="271.17" y="219.30" font-size="13.6" text-anchor="middle" >250</text>
<text x="54.50" y="145.70" font-size="13.6" text-anchor="end" >5</text>
<text x="54.50" y="170.20" font-size="13.6" text-anchor="end" >0</text>
<text x="54.50" y="194.70" font-size="13.6" text-anchor="end" >5</text>
<text x="37.40" y="194.50" font-size="13.6" text-anchor="start" textLength="8.8" lengthAdjust="spacingAndGlyphs">−</text>
<text x="186.30" y="240.00" font-size="13.6" text-anchor="middle" font-style="italic">k</text>
<text transform="translate(18.6,166.8) rotate(-90)" font-size="13.6" text-anchor="middle" textLength="60" lengthAdjust="spacingAndGlyphs"><tspan font-style="italic">x</tspan><tspan font-size="8.6" dy="2.2">3</tspan><tspan dy="-2.2"> / m s</tspan><tspan font-size="8.6" dy="-4.6">−1</tspan></text>
</svg></body></html>
